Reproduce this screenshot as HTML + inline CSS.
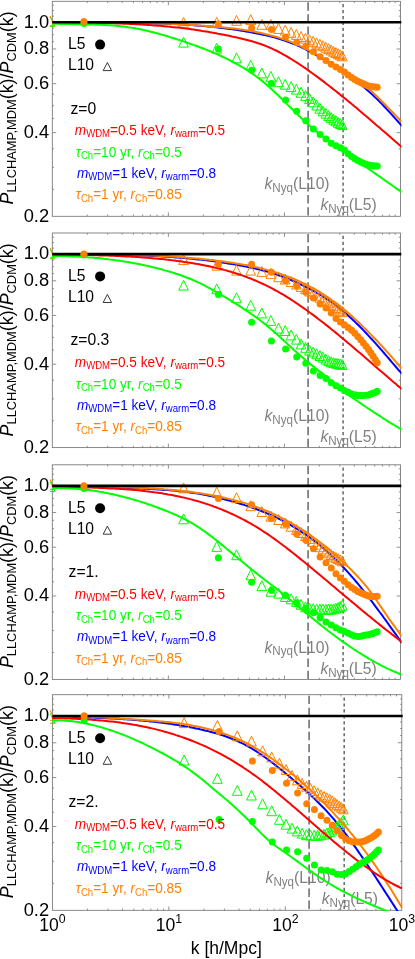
<!DOCTYPE html>
<html lang="en"><head><meta charset="utf-8"><title>P_LLCHAMP,MDM(k)/P_CDM(k)</title>
<style>
html,body{margin:0;padding:0;background:#fff;}
body{width:415px;height:959px;overflow:hidden;}
svg{display:block;mix-blend-mode:multiply;}
</style></head><body>
<svg width="415" height="959" viewBox="0 0 415 959" font-family="'Liberation Sans', Arial, Helvetica, sans-serif">
<rect width="415" height="959" fill="#fff"/>
<defs>
<clipPath id="cp0"><rect x="52.00" y="1.00" width="349.40" height="215.90"/></clipPath>
<clipPath id="cm0"><rect x="49.90" y="1.30" width="350.60" height="215.00"/></clipPath>
<clipPath id="cp1"><rect x="52.00" y="232.70" width="349.40" height="215.50"/></clipPath>
<clipPath id="cm1"><rect x="49.90" y="233.00" width="350.60" height="214.60"/></clipPath>
<clipPath id="cp2"><rect x="52.00" y="464.50" width="349.40" height="215.50"/></clipPath>
<clipPath id="cm2"><rect x="49.90" y="464.80" width="350.60" height="214.60"/></clipPath>
<clipPath id="cp3"><rect x="52.10" y="694.40" width="350.60" height="216.50"/></clipPath>
<clipPath id="cm3"><rect x="50.00" y="694.70" width="351.80" height="215.60"/></clipPath>
</defs>
<g id="panel0">
<rect x="52.30" y="1.30" width="348.20" height="215.00" fill="none" stroke="#747474" stroke-width="0.85"/>
<path d="M87.24 216.30 v-1.7 M87.24 1.30 v1.7 M107.68 216.30 v-1.7 M107.68 1.30 v1.7 M122.18 216.30 v-1.7 M122.18 1.30 v1.7 M133.43 216.30 v-1.7 M133.43 1.30 v1.7 M142.62 216.30 v-1.7 M142.62 1.30 v1.7 M150.39 216.30 v-1.7 M150.39 1.30 v1.7 M157.12 216.30 v-1.7 M157.12 1.30 v1.7 M163.06 216.30 v-1.7 M163.06 1.30 v1.7 M168.37 216.30 v-3.9 M168.37 1.30 v3.9 M203.31 216.30 v-1.7 M203.31 1.30 v1.7 M223.74 216.30 v-1.7 M223.74 1.30 v1.7 M238.25 216.30 v-1.7 M238.25 1.30 v1.7 M249.49 216.30 v-1.7 M249.49 1.30 v1.7 M258.68 216.30 v-1.7 M258.68 1.30 v1.7 M266.45 216.30 v-1.7 M266.45 1.30 v1.7 M273.19 216.30 v-1.7 M273.19 1.30 v1.7 M279.12 216.30 v-1.7 M279.12 1.30 v1.7 M284.43 216.30 v-3.9 M284.43 1.30 v3.9 M319.37 216.30 v-1.7 M319.37 1.30 v1.7 M339.81 216.30 v-1.7 M339.81 1.30 v1.7 M354.31 216.30 v-1.7 M354.31 1.30 v1.7 M365.56 216.30 v-1.7 M365.56 1.30 v1.7 M374.75 216.30 v-1.7 M374.75 1.30 v1.7 M382.52 216.30 v-1.7 M382.52 1.30 v1.7 M389.25 216.30 v-1.7 M389.25 1.30 v1.7 M395.19 216.30 v-1.7 M395.19 1.30 v1.7 M52.30 189.37 h1.7 M400.50 189.37 h-1.7 M52.30 167.36 h1.7 M400.50 167.36 h-1.7 M52.30 148.76 h1.7 M400.50 148.76 h-1.7 M52.30 132.64 h3.9 M400.50 132.64 h-3.9 M52.30 118.43 h1.7 M400.50 118.43 h-1.7 M52.30 105.71 h1.7 M400.50 105.71 h-1.7 M52.30 94.21 h1.7 M400.50 94.21 h-1.7 M52.30 83.70 h3.9 M400.50 83.70 h-3.9 M52.30 74.04 h1.7 M400.50 74.04 h-1.7 M52.30 65.10 h1.7 M400.50 65.10 h-1.7 M52.30 56.77 h1.7 M400.50 56.77 h-1.7 M52.30 48.98 h3.9 M400.50 48.98 h-3.9 M52.30 41.67 h1.7 M400.50 41.67 h-1.7 M52.30 34.77 h1.7 M400.50 34.77 h-1.7 M52.30 28.24 h1.7 M400.50 28.24 h-1.7 M52.30 22.05 h3.9 M400.50 22.05 h-3.9 M52.30 16.16 h1.7 M400.50 16.16 h-1.7 M52.30 10.55 h1.7 M400.50 10.55 h-1.7 M52.30 5.18 h1.7 M400.50 5.18 h-1.7" stroke="#747474" stroke-width="0.8" fill="none"/>
<g font-size="16.4" fill="#808080">
<text transform="translate(264.50 189.00) scale(0.958 1)" ><tspan font-style="italic">k</tspan><tspan font-size="12.1" dy="2.8">Nyq</tspan><tspan dy="-2.8">(L10)</tspan></text>
<text transform="translate(320.40 210.20) scale(0.958 1)" ><tspan font-style="italic">k</tspan><tspan font-size="12.1" dy="2.8">Nyq</tspan><tspan dy="-2.8">(L5)</tspan></text>
</g>
<path d="M308.1 2.30 V216.30" stroke="#707070" stroke-width="1.6" stroke-dasharray="8.4 3.65" fill="none"/>
<path d="M343.1 4.05 V216.30" stroke="#707070" stroke-width="1.6" stroke-dasharray="3.2 2.75" fill="none"/>
<g clip-path="url(#cp0)" fill="none" stroke-width="2" stroke-linejoin="round">
<path d="M52.0 22.1 L54.0 22.1 L56.0 22.2 L58.0 22.2 L60.0 22.3 L62.0 22.3 L64.0 22.3 L66.0 22.4 L68.0 22.4 L70.0 22.4 L72.0 22.4 L74.0 22.4 L76.0 22.5 L78.0 22.5 L80.0 22.5 L82.0 22.5 L84.0 22.5 L86.0 22.5 L88.0 22.6 L90.0 22.6 L92.0 22.6 L94.0 22.6 L96.0 22.6 L98.0 22.6 L100.0 22.6 L102.0 22.6 L104.0 22.6 L106.0 22.6 L108.0 22.7 L110.0 22.7 L112.0 22.7 L114.0 22.7 L116.0 22.7 L118.0 22.7 L120.0 22.7 L122.0 22.8 L124.0 22.8 L126.0 22.8 L128.0 22.8 L130.0 22.8 L132.0 22.9 L134.0 22.9 L136.0 22.9 L138.0 22.9 L140.0 23.0 L142.0 23.0 L144.0 23.1 L146.0 23.1 L148.0 23.1 L150.0 23.2 L152.0 23.2 L154.0 23.3 L156.0 23.4 L158.0 23.4 L160.0 23.5 L162.0 23.5 L164.0 23.6 L166.0 23.7 L168.0 23.8 L170.0 23.9 L172.0 23.9 L174.0 24.0 L176.0 24.1 L178.0 24.2 L180.0 24.3 L182.0 24.5 L184.0 24.6 L186.0 24.7 L188.0 24.8 L190.0 25.0 L192.0 25.1 L194.0 25.2 L196.0 25.4 L198.0 25.6 L200.0 25.7 L202.0 25.9 L204.0 26.1 L206.0 26.2 L208.0 26.4 L210.0 26.6 L212.0 26.8 L214.0 27.0 L216.0 27.3 L218.0 27.5 L220.0 27.7 L222.0 28.0 L224.0 28.2 L226.0 28.5 L228.0 28.7 L230.0 29.0 L232.0 29.3 L234.0 29.5 L236.0 29.8 L238.0 30.1 L240.0 30.5 L242.0 30.8 L244.0 31.1 L246.0 31.4 L248.0 31.8 L250.0 32.1 L252.0 32.5 L254.0 32.9 L256.0 33.3 L258.0 33.7 L260.0 34.1 L262.0 34.5 L264.0 34.9 L266.0 35.4 L268.0 35.9 L270.0 36.4 L272.0 36.9 L274.0 37.4 L276.0 37.9 L278.0 38.5 L280.0 39.1 L282.0 39.7 L284.0 40.4 L286.0 41.1 L288.0 41.8 L290.0 42.5 L292.0 43.3 L294.0 44.1 L296.0 44.9 L298.0 45.7 L300.0 46.6 L302.0 47.6 L304.0 48.5 L306.0 49.5 L308.0 50.5 L310.0 51.6 L312.0 52.7 L314.0 53.8 L316.0 54.9 L318.0 56.1 L320.0 57.3 L322.0 58.5 L324.0 59.7 L326.0 60.9 L328.0 62.2 L330.0 63.5 L332.0 64.7 L334.0 66.1 L336.0 67.4 L338.0 68.7 L340.0 70.0 L342.0 71.4 L344.0 72.7 L346.0 74.1 L348.0 75.5 L350.0 76.8 L352.0 78.3 L354.0 79.7 L356.0 81.1 L358.0 82.6 L360.0 84.2 L362.0 85.7 L364.0 87.3 L366.0 89.0 L368.0 90.7 L370.0 92.5 L372.0 94.3 L374.0 96.2 L376.0 98.1 L378.0 100.0 L380.0 102.1 L382.0 104.1 L384.0 106.2 L386.0 108.3 L388.0 110.5 L390.0 112.7 L392.0 114.9 L394.0 117.1 L396.0 119.3 L398.0 121.5 L400.0 123.8 L402.0 126.0" stroke="#0000ff"/>
</g>
<g clip-path="url(#cm0)">
<path d="M50.0 16.6 L54.9 26.5 L45.2 26.5Z" fill="none" stroke="#00ff00" stroke-width="1.00" stroke-linejoin="miter"/>
<path d="M183.6 37.2 L188.4 47.1 L178.7 47.1Z" fill="none" stroke="#00ff00" stroke-width="1.00" stroke-linejoin="miter"/>
<path d="M216.7 43.3 L221.6 53.2 L211.9 53.2Z" fill="none" stroke="#00ff00" stroke-width="1.00" stroke-linejoin="miter"/>
<path d="M236.5 52.9 L241.4 62.8 L231.7 62.8Z" fill="none" stroke="#00ff00" stroke-width="1.00" stroke-linejoin="miter"/>
<path d="M250.7 60.3 L255.6 70.2 L245.9 70.2Z" fill="none" stroke="#00ff00" stroke-width="1.00" stroke-linejoin="miter"/>
<path d="M261.8 68.0 L266.6 77.9 L256.9 77.9Z" fill="none" stroke="#00ff00" stroke-width="1.00" stroke-linejoin="miter"/>
<path d="M270.8 71.4 L275.7 81.3 L266.0 81.3Z" fill="none" stroke="#00ff00" stroke-width="1.00" stroke-linejoin="miter"/>
<path d="M278.5 76.8 L283.4 86.7 L273.7 86.7Z" fill="none" stroke="#00ff00" stroke-width="1.00" stroke-linejoin="miter"/>
<path d="M285.2 79.3 L290.0 89.2 L280.3 89.2Z" fill="none" stroke="#00ff00" stroke-width="1.00" stroke-linejoin="miter"/>
<path d="M291.1 81.6 L295.9 91.5 L286.2 91.5Z" fill="none" stroke="#00ff00" stroke-width="1.00" stroke-linejoin="miter"/>
<path d="M296.3 84.2 L301.2 94.1 L291.5 94.1Z" fill="none" stroke="#00ff00" stroke-width="1.00" stroke-linejoin="miter"/>
<path d="M301.1 87.4 L305.9 97.3 L296.2 97.3Z" fill="none" stroke="#00ff00" stroke-width="1.00" stroke-linejoin="miter"/>
<path d="M305.5 90.5 L310.3 100.4 L300.6 100.4Z" fill="none" stroke="#00ff00" stroke-width="1.00" stroke-linejoin="miter"/>
<path d="M309.5 93.5 L314.3 103.4 L304.6 103.4Z" fill="none" stroke="#00ff00" stroke-width="1.00" stroke-linejoin="miter"/>
<path d="M313.2 96.9 L318.0 106.8 L308.3 106.8Z" fill="none" stroke="#00ff00" stroke-width="1.00" stroke-linejoin="miter"/>
<path d="M316.6 100.1 L321.5 110.0 L311.8 110.0Z" fill="none" stroke="#00ff00" stroke-width="1.00" stroke-linejoin="miter"/>
<path d="M319.9 103.3 L324.7 113.2 L315.0 113.2Z" fill="none" stroke="#00ff00" stroke-width="1.00" stroke-linejoin="miter"/>
<path d="M322.9 105.9 L327.8 115.8 L318.1 115.8Z" fill="none" stroke="#00ff00" stroke-width="1.00" stroke-linejoin="miter"/>
<path d="M325.8 108.3 L330.6 118.2 L320.9 118.2Z" fill="none" stroke="#00ff00" stroke-width="1.00" stroke-linejoin="miter"/>
<path d="M328.5 110.5 L333.4 120.4 L323.7 120.4Z" fill="none" stroke="#00ff00" stroke-width="1.00" stroke-linejoin="miter"/>
<path d="M331.1 112.5 L335.9 122.4 L326.2 122.4Z" fill="none" stroke="#00ff00" stroke-width="1.00" stroke-linejoin="miter"/>
<path d="M333.5 114.3 L338.4 124.2 L328.7 124.2Z" fill="none" stroke="#00ff00" stroke-width="1.00" stroke-linejoin="miter"/>
<path d="M335.9 115.9 L340.7 125.8 L331.0 125.8Z" fill="none" stroke="#00ff00" stroke-width="1.00" stroke-linejoin="miter"/>
<path d="M338.1 117.4 L342.9 127.3 L333.2 127.3Z" fill="none" stroke="#00ff00" stroke-width="1.00" stroke-linejoin="miter"/>
<path d="M340.2 118.6 L345.1 128.5 L335.4 128.5Z" fill="none" stroke="#00ff00" stroke-width="1.00" stroke-linejoin="miter"/>
<path d="M342.3 119.7 L347.1 129.6 L337.4 129.6Z" fill="none" stroke="#00ff00" stroke-width="1.00" stroke-linejoin="miter"/>
<path d="M50.0 15.9 L54.9 25.8 L45.2 25.8Z" fill="none" stroke="#ff8000" stroke-width="1.00" stroke-linejoin="miter"/>
<path d="M183.6 17.4 L188.4 27.3 L178.7 27.3Z" fill="none" stroke="#ff8000" stroke-width="1.00" stroke-linejoin="miter"/>
<path d="M216.7 17.4 L221.6 27.3 L211.9 27.3Z" fill="none" stroke="#ff8000" stroke-width="1.00" stroke-linejoin="miter"/>
<path d="M236.5 15.4 L241.4 25.3 L231.7 25.3Z" fill="none" stroke="#ff8000" stroke-width="1.00" stroke-linejoin="miter"/>
<path d="M250.7 14.7 L255.6 24.6 L245.9 24.6Z" fill="none" stroke="#ff8000" stroke-width="1.00" stroke-linejoin="miter"/>
<path d="M261.8 19.4 L266.6 29.3 L256.9 29.3Z" fill="none" stroke="#ff8000" stroke-width="1.00" stroke-linejoin="miter"/>
<path d="M270.8 19.5 L275.7 29.4 L266.0 29.4Z" fill="none" stroke="#ff8000" stroke-width="1.00" stroke-linejoin="miter"/>
<path d="M278.5 23.5 L283.4 33.4 L273.7 33.4Z" fill="none" stroke="#ff8000" stroke-width="1.00" stroke-linejoin="miter"/>
<path d="M285.2 25.2 L290.0 35.1 L280.3 35.1Z" fill="none" stroke="#ff8000" stroke-width="1.00" stroke-linejoin="miter"/>
<path d="M291.1 27.4 L295.9 37.3 L286.2 37.3Z" fill="none" stroke="#ff8000" stroke-width="1.00" stroke-linejoin="miter"/>
<path d="M296.3 29.5 L301.2 39.4 L291.5 39.4Z" fill="none" stroke="#ff8000" stroke-width="1.00" stroke-linejoin="miter"/>
<path d="M301.1 31.6 L305.9 41.5 L296.2 41.5Z" fill="none" stroke="#ff8000" stroke-width="1.00" stroke-linejoin="miter"/>
<path d="M305.5 33.3 L310.3 43.2 L300.6 43.2Z" fill="none" stroke="#ff8000" stroke-width="1.00" stroke-linejoin="miter"/>
<path d="M309.5 34.9 L314.3 44.8 L304.6 44.8Z" fill="none" stroke="#ff8000" stroke-width="1.00" stroke-linejoin="miter"/>
<path d="M313.2 36.4 L318.0 46.3 L308.3 46.3Z" fill="none" stroke="#ff8000" stroke-width="1.00" stroke-linejoin="miter"/>
<path d="M316.6 37.9 L321.5 47.8 L311.8 47.8Z" fill="none" stroke="#ff8000" stroke-width="1.00" stroke-linejoin="miter"/>
<path d="M319.9 39.3 L324.7 49.2 L315.0 49.2Z" fill="none" stroke="#ff8000" stroke-width="1.00" stroke-linejoin="miter"/>
<path d="M322.9 40.8 L327.8 50.7 L318.1 50.7Z" fill="none" stroke="#ff8000" stroke-width="1.00" stroke-linejoin="miter"/>
<path d="M325.8 42.3 L330.6 52.2 L320.9 52.2Z" fill="none" stroke="#ff8000" stroke-width="1.00" stroke-linejoin="miter"/>
<path d="M328.5 43.7 L333.4 53.6 L323.7 53.6Z" fill="none" stroke="#ff8000" stroke-width="1.00" stroke-linejoin="miter"/>
<path d="M331.1 45.1 L335.9 55.0 L326.2 55.0Z" fill="none" stroke="#ff8000" stroke-width="1.00" stroke-linejoin="miter"/>
<path d="M333.5 46.4 L338.4 56.3 L328.7 56.3Z" fill="none" stroke="#ff8000" stroke-width="1.00" stroke-linejoin="miter"/>
<path d="M335.9 47.6 L340.7 57.5 L331.0 57.5Z" fill="none" stroke="#ff8000" stroke-width="1.00" stroke-linejoin="miter"/>
<path d="M338.1 48.8 L342.9 58.7 L333.2 58.7Z" fill="none" stroke="#ff8000" stroke-width="1.00" stroke-linejoin="miter"/>
<path d="M340.2 49.9 L345.1 59.8 L335.4 59.8Z" fill="none" stroke="#ff8000" stroke-width="1.00" stroke-linejoin="miter"/>
<path d="M342.3 50.9 L347.1 60.8 L337.4 60.8Z" fill="none" stroke="#ff8000" stroke-width="1.00" stroke-linejoin="miter"/>
</g>
<g clip-path="url(#cp0)" fill="none" stroke-width="2" stroke-linejoin="round">
<path d="M52.0 22.1 L54.0 22.1 L56.0 22.1 L58.0 22.1 L60.0 22.1 L62.0 22.1 L64.0 22.1 L66.0 22.1 L68.0 22.1 L70.0 22.1 L72.0 22.1 L74.0 22.1 L76.0 22.1 L78.0 22.1 L80.0 22.1 L82.0 22.1 L84.0 22.1 L86.0 22.1 L88.0 22.1 L90.0 22.1 L92.0 22.2 L94.0 22.2 L96.0 22.2 L98.0 22.2 L100.0 22.2 L102.0 22.2 L104.0 22.2 L106.0 22.2 L108.0 22.3 L110.0 22.3 L112.0 22.3 L114.0 22.3 L116.0 22.3 L118.0 22.4 L120.0 22.4 L122.0 22.4 L124.0 22.5 L126.0 22.5 L128.0 22.5 L130.0 22.6 L132.0 22.6 L134.0 22.6 L136.0 22.7 L138.0 22.7 L140.0 22.8 L142.0 22.8 L144.0 22.9 L146.0 22.9 L148.0 23.0 L150.0 23.0 L152.0 23.1 L154.0 23.2 L156.0 23.2 L158.0 23.3 L160.0 23.4 L162.0 23.5 L164.0 23.5 L166.0 23.6 L168.0 23.7 L170.0 23.8 L172.0 23.9 L174.0 24.0 L176.0 24.1 L178.0 24.2 L180.0 24.3 L182.0 24.4 L184.0 24.5 L186.0 24.6 L188.0 24.7 L190.0 24.9 L192.0 25.0 L194.0 25.1 L196.0 25.2 L198.0 25.4 L200.0 25.5 L202.0 25.7 L204.0 25.8 L206.0 26.0 L208.0 26.1 L210.0 26.3 L212.0 26.4 L214.0 26.6 L216.0 26.8 L218.0 27.0 L220.0 27.1 L222.0 27.3 L224.0 27.5 L226.0 27.7 L228.0 27.9 L230.0 28.1 L232.0 28.4 L234.0 28.6 L236.0 28.8 L238.0 29.1 L240.0 29.4 L242.0 29.6 L244.0 29.9 L246.0 30.2 L248.0 30.6 L250.0 30.9 L252.0 31.2 L254.0 31.6 L256.0 32.0 L258.0 32.4 L260.0 32.8 L262.0 33.2 L264.0 33.7 L266.0 34.2 L268.0 34.6 L270.0 35.2 L272.0 35.7 L274.0 36.3 L276.0 36.8 L278.0 37.4 L280.0 38.1 L282.0 38.7 L284.0 39.4 L286.0 40.1 L288.0 40.8 L290.0 41.6 L292.0 42.4 L294.0 43.2 L296.0 44.1 L298.0 44.9 L300.0 45.9 L302.0 46.8 L304.0 47.8 L306.0 48.8 L308.0 49.8 L310.0 50.8 L312.0 51.9 L314.0 53.0 L316.0 54.1 L318.0 55.3 L320.0 56.5 L322.0 57.6 L324.0 58.8 L326.0 60.0 L328.0 61.3 L330.0 62.5 L332.0 63.7 L334.0 65.0 L336.0 66.2 L338.0 67.5 L340.0 68.8 L342.0 70.0 L344.0 71.3 L346.0 72.6 L348.0 73.9 L350.0 75.2 L352.0 76.5 L354.0 77.8 L356.0 79.2 L358.0 80.6 L360.0 82.0 L362.0 83.5 L364.0 85.0 L366.0 86.6 L368.0 88.3 L370.0 90.0 L372.0 91.7 L374.0 93.6 L376.0 95.5 L378.0 97.4 L380.0 99.4 L382.0 101.4 L384.0 103.4 L386.0 105.5 L388.0 107.6 L390.0 109.6 L392.0 111.7 L394.0 113.8 L396.0 115.9 L398.0 117.9 L400.0 120.0 L402.0 122.0" stroke="#ff8000"/>
<path d="M52.0 22.3 L54.0 22.3 L56.0 22.3 L58.0 22.4 L60.0 22.4 L62.0 22.4 L64.0 22.4 L66.0 22.5 L68.0 22.5 L70.0 22.5 L72.0 22.5 L74.0 22.6 L76.0 22.6 L78.0 22.6 L80.0 22.6 L82.0 22.7 L84.0 22.7 L86.0 22.7 L88.0 22.7 L90.0 22.8 L92.0 22.8 L94.0 22.8 L96.0 22.9 L98.0 22.9 L100.0 23.0 L102.0 23.0 L104.0 23.1 L106.0 23.1 L108.0 23.2 L110.0 23.2 L112.0 23.3 L114.0 23.3 L116.0 23.4 L118.0 23.5 L120.0 23.5 L122.0 23.6 L124.0 23.7 L126.0 23.8 L128.0 23.8 L130.0 23.9 L132.0 24.0 L134.0 24.1 L136.0 24.2 L138.0 24.3 L140.0 24.4 L142.0 24.6 L144.0 24.7 L146.0 24.8 L148.0 24.9 L150.0 25.1 L152.0 25.2 L154.0 25.4 L156.0 25.5 L158.0 25.7 L160.0 25.8 L162.0 26.0 L164.0 26.2 L166.0 26.4 L168.0 26.6 L170.0 26.7 L172.0 27.0 L174.0 27.2 L176.0 27.4 L178.0 27.6 L180.0 27.8 L182.0 28.1 L184.0 28.3 L186.0 28.6 L188.0 28.8 L190.0 29.1 L192.0 29.4 L194.0 29.6 L196.0 29.9 L198.0 30.2 L200.0 30.5 L202.0 30.9 L204.0 31.2 L206.0 31.5 L208.0 31.8 L210.0 32.2 L212.0 32.6 L214.0 32.9 L216.0 33.3 L218.0 33.7 L220.0 34.0 L222.0 34.4 L224.0 34.8 L226.0 35.2 L228.0 35.6 L230.0 36.0 L232.0 36.5 L234.0 36.9 L236.0 37.3 L238.0 37.8 L240.0 38.2 L242.0 38.7 L244.0 39.2 L246.0 39.7 L248.0 40.2 L250.0 40.7 L252.0 41.3 L254.0 41.9 L256.0 42.5 L258.0 43.2 L260.0 43.8 L262.0 44.5 L264.0 45.3 L266.0 46.1 L268.0 46.9 L270.0 47.7 L272.0 48.6 L274.0 49.6 L276.0 50.5 L278.0 51.5 L280.0 52.6 L282.0 53.7 L284.0 54.8 L286.0 55.9 L288.0 57.1 L290.0 58.3 L292.0 59.5 L294.0 60.8 L296.0 62.0 L298.0 63.3 L300.0 64.7 L302.0 66.0 L304.0 67.4 L306.0 68.7 L308.0 70.1 L310.0 71.6 L312.0 73.0 L314.0 74.5 L316.0 75.9 L318.0 77.4 L320.0 78.9 L322.0 80.4 L324.0 81.9 L326.0 83.5 L328.0 85.0 L330.0 86.5 L332.0 88.1 L334.0 89.7 L336.0 91.3 L338.0 92.9 L340.0 94.5 L342.0 96.1 L344.0 97.7 L346.0 99.3 L348.0 101.0 L350.0 102.6 L352.0 104.3 L354.0 105.9 L356.0 107.6 L358.0 109.3 L360.0 111.0 L362.0 112.7 L364.0 114.4 L366.0 116.1 L368.0 117.8 L370.0 119.5 L372.0 121.2 L374.0 122.9 L376.0 124.7 L378.0 126.4 L380.0 128.1 L382.0 129.9 L384.0 131.6 L386.0 133.3 L388.0 135.1 L390.0 136.8 L392.0 138.6 L394.0 140.3 L396.0 142.1 L398.0 143.8 L400.0 145.6 L402.0 147.3" stroke="#ff0000"/>
<path d="M52.0 23.5 L54.0 23.6 L56.0 23.7 L58.0 23.8 L60.0 23.9 L62.0 23.9 L64.0 24.0 L66.0 24.0 L68.0 24.1 L70.0 24.1 L72.0 24.2 L74.0 24.2 L76.0 24.3 L78.0 24.3 L80.0 24.3 L82.0 24.4 L84.0 24.4 L86.0 24.4 L88.0 24.5 L90.0 24.5 L92.0 24.6 L94.0 24.6 L96.0 24.7 L98.0 24.7 L100.0 24.8 L102.0 24.9 L104.0 25.0 L106.0 25.1 L108.0 25.2 L110.0 25.3 L112.0 25.5 L114.0 25.6 L116.0 25.8 L118.0 26.0 L120.0 26.2 L122.0 26.4 L124.0 26.6 L126.0 26.9 L128.0 27.2 L130.0 27.4 L132.0 27.8 L134.0 28.1 L136.0 28.5 L138.0 28.8 L140.0 29.2 L142.0 29.6 L144.0 30.1 L146.0 30.5 L148.0 31.0 L150.0 31.5 L152.0 32.0 L154.0 32.5 L156.0 33.0 L158.0 33.5 L160.0 34.1 L162.0 34.7 L164.0 35.2 L166.0 35.8 L168.0 36.4 L170.0 37.1 L172.0 37.7 L174.0 38.3 L176.0 39.0 L178.0 39.6 L180.0 40.3 L182.0 40.9 L184.0 41.6 L186.0 42.3 L188.0 43.0 L190.0 43.7 L192.0 44.4 L194.0 45.1 L196.0 45.8 L198.0 46.5 L200.0 47.3 L202.0 48.0 L204.0 48.8 L206.0 49.6 L208.0 50.4 L210.0 51.2 L212.0 52.0 L214.0 52.9 L216.0 53.7 L218.0 54.6 L220.0 55.5 L222.0 56.5 L224.0 57.4 L226.0 58.4 L228.0 59.4 L230.0 60.4 L232.0 61.4 L234.0 62.5 L236.0 63.6 L238.0 64.7 L240.0 65.8 L242.0 67.0 L244.0 68.2 L246.0 69.4 L248.0 70.7 L250.0 72.0 L252.0 73.4 L254.0 74.8 L256.0 76.2 L258.0 77.7 L260.0 79.3 L262.0 80.9 L264.0 82.5 L266.0 84.2 L268.0 86.0 L270.0 87.8 L272.0 89.6 L274.0 91.4 L276.0 93.3 L278.0 95.3 L280.0 97.2 L282.0 99.1 L284.0 101.1 L286.0 103.1 L288.0 105.1 L290.0 107.0 L292.0 109.0 L294.0 111.0 L296.0 112.9 L298.0 114.9 L300.0 116.8 L302.0 118.7 L304.0 120.5 L306.0 122.4 L308.0 124.2 L310.0 126.0 L312.0 127.7 L314.0 129.4 L316.0 131.1 L318.0 132.7 L320.0 134.3 L322.0 135.8 L324.0 137.4 L326.0 138.9 L328.0 140.3 L330.0 141.8 L332.0 143.3 L334.0 144.7 L336.0 146.1 L338.0 147.5 L340.0 148.9 L342.0 150.3 L344.0 151.7 L346.0 153.1 L348.0 154.5 L350.0 155.9 L352.0 157.3 L354.0 158.7 L356.0 160.1 L358.0 161.5 L360.0 162.9 L362.0 164.3 L364.0 165.7 L366.0 167.1 L368.0 168.5 L370.0 169.9 L372.0 171.3 L374.0 172.7 L376.0 174.1 L378.0 175.5 L380.0 176.9 L382.0 178.3 L384.0 179.7 L386.0 181.1 L388.0 182.5 L390.0 183.9 L392.0 185.3 L394.0 186.7 L396.0 188.1 L398.0 189.6 L400.0 191.0 L402.0 192.4" stroke="#00ff00"/>
<path d="M52.30 22.20 H401.70" stroke="#000" stroke-width="2.6"/>
</g>
<g clip-path="url(#cm0)">
<circle cx="83.9" cy="23.5" r="3.5" fill="#00ff00"/>
<circle cx="218.4" cy="48.9" r="3.5" fill="#00ff00"/>
<circle cx="251.6" cy="70.3" r="3.5" fill="#00ff00"/>
<circle cx="271.4" cy="83.6" r="3.5" fill="#00ff00"/>
<circle cx="285.6" cy="99.9" r="3.5" fill="#00ff00"/>
<circle cx="296.7" cy="111.2" r="3.5" fill="#00ff00"/>
<circle cx="305.8" cy="120.8" r="3.5" fill="#00ff00"/>
<circle cx="313.4" cy="129.0" r="3.5" fill="#00ff00"/>
<circle cx="320.1" cy="134.4" r="3.5" fill="#00ff00"/>
<circle cx="326.0" cy="139.0" r="3.5" fill="#00ff00"/>
<circle cx="331.3" cy="143.2" r="3.5" fill="#00ff00"/>
<circle cx="336.0" cy="145.8" r="3.5" fill="#00ff00"/>
<circle cx="340.4" cy="147.7" r="3.5" fill="#00ff00"/>
<circle cx="344.4" cy="149.9" r="3.5" fill="#00ff00"/>
<circle cx="348.1" cy="153.8" r="3.5" fill="#00ff00"/>
<circle cx="351.6" cy="156.6" r="3.5" fill="#00ff00"/>
<circle cx="354.8" cy="158.8" r="3.5" fill="#00ff00"/>
<circle cx="357.8" cy="160.5" r="3.5" fill="#00ff00"/>
<circle cx="360.7" cy="161.9" r="3.5" fill="#00ff00"/>
<circle cx="363.4" cy="163.2" r="3.5" fill="#00ff00"/>
<circle cx="366.0" cy="164.2" r="3.5" fill="#00ff00"/>
<circle cx="368.5" cy="164.9" r="3.5" fill="#00ff00"/>
<circle cx="370.8" cy="165.4" r="3.5" fill="#00ff00"/>
<circle cx="373.0" cy="165.8" r="3.5" fill="#00ff00"/>
<circle cx="375.2" cy="166.0" r="3.5" fill="#00ff00"/>
<circle cx="377.2" cy="166.1" r="3.5" fill="#00ff00"/>
<circle cx="83.9" cy="21.6" r="3.5" fill="#ff8000"/>
<circle cx="218.4" cy="24.1" r="3.5" fill="#ff8000"/>
<circle cx="251.6" cy="28.0" r="3.5" fill="#ff8000"/>
<circle cx="271.4" cy="29.4" r="3.5" fill="#ff8000"/>
<circle cx="285.6" cy="37.1" r="3.5" fill="#ff8000"/>
<circle cx="296.7" cy="42.5" r="3.5" fill="#ff8000"/>
<circle cx="305.8" cy="46.5" r="3.5" fill="#ff8000"/>
<circle cx="313.4" cy="51.8" r="3.5" fill="#ff8000"/>
<circle cx="320.1" cy="56.8" r="3.5" fill="#ff8000"/>
<circle cx="326.0" cy="60.6" r="3.5" fill="#ff8000"/>
<circle cx="331.3" cy="64.2" r="3.5" fill="#ff8000"/>
<circle cx="336.0" cy="67.1" r="3.5" fill="#ff8000"/>
<circle cx="340.4" cy="69.6" r="3.5" fill="#ff8000"/>
<circle cx="344.4" cy="72.1" r="3.5" fill="#ff8000"/>
<circle cx="348.1" cy="74.9" r="3.5" fill="#ff8000"/>
<circle cx="351.6" cy="77.5" r="3.5" fill="#ff8000"/>
<circle cx="354.8" cy="79.6" r="3.5" fill="#ff8000"/>
<circle cx="357.8" cy="81.2" r="3.5" fill="#ff8000"/>
<circle cx="360.7" cy="82.6" r="3.5" fill="#ff8000"/>
<circle cx="363.4" cy="83.8" r="3.5" fill="#ff8000"/>
<circle cx="366.0" cy="84.9" r="3.5" fill="#ff8000"/>
<circle cx="368.5" cy="85.9" r="3.5" fill="#ff8000"/>
<circle cx="370.8" cy="86.4" r="3.5" fill="#ff8000"/>
<circle cx="373.0" cy="86.8" r="3.5" fill="#ff8000"/>
<circle cx="375.2" cy="87.1" r="3.5" fill="#ff8000"/>
<circle cx="377.2" cy="87.2" r="3.5" fill="#ff8000"/>
</g>
<g font-size="17.5" fill="#000" text-anchor="end">
<text x="49.1" y="27.5" textLength="25.4" lengthAdjust="spacingAndGlyphs">1.0</text>
<text x="49.1" y="54.4" textLength="25.4" lengthAdjust="spacingAndGlyphs">0.8</text>
<text x="49.1" y="89.1" textLength="25.4" lengthAdjust="spacingAndGlyphs">0.6</text>
<text x="49.1" y="138.0" textLength="25.4" lengthAdjust="spacingAndGlyphs">0.4</text>
<text x="49.1" y="221.7" textLength="25.4" lengthAdjust="spacingAndGlyphs">0.2</text>
</g>
<text transform="translate(12.8 204.5) rotate(-90)" font-size="17.9" fill="#000"><tspan font-style="italic">P</tspan><tspan font-size="12.85" dy="3.6">LLCHAMP,MDM</tspan><tspan dy="-3.6">(k)/</tspan><tspan font-style="italic">P</tspan><tspan font-size="12.85" dy="3.6">CDM</tspan><tspan dy="-3.6">(k)</tspan></text>
<g font-size="16.4" fill="#000">
<text transform="translate(67.90 49.10) scale(0.958 1)" >L5</text>
<circle cx="100.1" cy="44.6" r="5" fill="#000"/>
<text transform="translate(67.90 70.40) scale(0.958 1)" >L10</text>
<path d="M107.4 62.5 l4.2 8.1 h-8.4z" fill="none" stroke="#222" stroke-width="0.9"/>
<text transform="translate(70.50 113.60) scale(0.958 1)" >z=0</text>
</g>
<g font-size="14.2">
<text transform="translate(74.80 135.00) scale(0.958 1)" fill="#ff0000"><tspan font-style="italic">m</tspan><tspan font-size="10.0" dy="2.4">WDM</tspan><tspan dy="-2.4">=0.5 keV, </tspan><tspan font-style="italic">r</tspan><tspan font-size="10.0" dy="2.4">warm</tspan><tspan dy="-2.4">=0.5</tspan></text>
<text transform="translate(75.80 156.70) scale(0.958 1)" fill="#00ff00"><tspan font-style="italic">τ</tspan><tspan font-size="10.0" dy="2.4">Ch</tspan><tspan dy="-2.4">=10 yr, </tspan><tspan font-style="italic">r</tspan><tspan font-size="10.0" dy="2.4">Ch</tspan><tspan dy="-2.4">=0.5</tspan></text>
<text transform="translate(77.00 177.70) scale(0.958 1)" fill="#0000ff"><tspan font-style="italic">m</tspan><tspan font-size="10.0" dy="2.4">WDM</tspan><tspan dy="-2.4">=1 keV, </tspan><tspan font-style="italic">r</tspan><tspan font-size="10.0" dy="2.4">warm</tspan><tspan dy="-2.4">=0.8</tspan></text>
<text transform="translate(75.80 199.40) scale(0.958 1)" fill="#ff8000"><tspan font-style="italic">τ</tspan><tspan font-size="10.0" dy="2.4">Ch</tspan><tspan dy="-2.4">=1 yr, </tspan><tspan font-style="italic">r</tspan><tspan font-size="10.0" dy="2.4">Ch</tspan><tspan dy="-2.4">=0.85</tspan></text>
</g>
</g>
<g id="panel1">
<rect x="52.30" y="233.00" width="348.20" height="214.60" fill="none" stroke="#747474" stroke-width="0.85"/>
<path d="M87.24 447.60 v-1.7 M87.24 233.00 v1.7 M107.68 447.60 v-1.7 M107.68 233.00 v1.7 M122.18 447.60 v-1.7 M122.18 233.00 v1.7 M133.43 447.60 v-1.7 M133.43 233.00 v1.7 M142.62 447.60 v-1.7 M142.62 233.00 v1.7 M150.39 447.60 v-1.7 M150.39 233.00 v1.7 M157.12 447.60 v-1.7 M157.12 233.00 v1.7 M163.06 447.60 v-1.7 M163.06 233.00 v1.7 M168.37 447.60 v-3.9 M168.37 233.00 v3.9 M203.31 447.60 v-1.7 M203.31 233.00 v1.7 M223.74 447.60 v-1.7 M223.74 233.00 v1.7 M238.25 447.60 v-1.7 M238.25 233.00 v1.7 M249.49 447.60 v-1.7 M249.49 233.00 v1.7 M258.68 447.60 v-1.7 M258.68 233.00 v1.7 M266.45 447.60 v-1.7 M266.45 233.00 v1.7 M273.19 447.60 v-1.7 M273.19 233.00 v1.7 M279.12 447.60 v-1.7 M279.12 233.00 v1.7 M284.43 447.60 v-3.9 M284.43 233.00 v3.9 M319.37 447.60 v-1.7 M319.37 233.00 v1.7 M339.81 447.60 v-1.7 M339.81 233.00 v1.7 M354.31 447.60 v-1.7 M354.31 233.00 v1.7 M365.56 447.60 v-1.7 M365.56 233.00 v1.7 M374.75 447.60 v-1.7 M374.75 233.00 v1.7 M382.52 447.60 v-1.7 M382.52 233.00 v1.7 M389.25 447.60 v-1.7 M389.25 233.00 v1.7 M395.19 447.60 v-1.7 M395.19 233.00 v1.7 M52.30 420.76 h1.7 M400.50 420.76 h-1.7 M52.30 398.83 h1.7 M400.50 398.83 h-1.7 M52.30 380.28 h1.7 M400.50 380.28 h-1.7 M52.30 364.22 h3.9 M400.50 364.22 h-3.9 M52.30 350.05 h1.7 M400.50 350.05 h-1.7 M52.30 337.38 h1.7 M400.50 337.38 h-1.7 M52.30 325.91 h1.7 M400.50 325.91 h-1.7 M52.30 315.45 h3.9 M400.50 315.45 h-3.9 M52.30 305.82 h1.7 M400.50 305.82 h-1.7 M52.30 296.90 h1.7 M400.50 296.90 h-1.7 M52.30 288.61 h1.7 M400.50 288.61 h-1.7 M52.30 280.84 h3.9 M400.50 280.84 h-3.9 M52.30 273.55 h1.7 M400.50 273.55 h-1.7 M52.30 266.67 h1.7 M400.50 266.67 h-1.7 M52.30 260.17 h1.7 M400.50 260.17 h-1.7 M52.30 254.00 h3.9 M400.50 254.00 h-3.9 M52.30 248.13 h1.7 M400.50 248.13 h-1.7 M52.30 242.54 h1.7 M400.50 242.54 h-1.7 M52.30 237.19 h1.7 M400.50 237.19 h-1.7" stroke="#747474" stroke-width="0.8" fill="none"/>
<g font-size="16.4" fill="#808080">
<text transform="translate(264.50 420.85) scale(0.958 1)" ><tspan font-style="italic">k</tspan><tspan font-size="12.1" dy="2.8">Nyq</tspan><tspan dy="-2.8">(L10)</tspan></text>
<text transform="translate(320.40 442.05) scale(0.958 1)" ><tspan font-style="italic">k</tspan><tspan font-size="12.1" dy="2.8">Nyq</tspan><tspan dy="-2.8">(L5)</tspan></text>
</g>
<path d="M308.1 234.00 V447.60" stroke="#707070" stroke-width="1.6" stroke-dasharray="8.4 3.65" fill="none"/>
<path d="M343.1 235.75 V447.60" stroke="#707070" stroke-width="1.6" stroke-dasharray="3.2 2.75" fill="none"/>
<g clip-path="url(#cp1)" fill="none" stroke-width="2" stroke-linejoin="round">
<path d="M52.0 254.0 L54.0 254.0 L56.0 254.0 L58.0 254.1 L60.0 254.1 L62.0 254.1 L64.0 254.1 L66.0 254.1 L68.0 254.1 L70.0 254.1 L72.0 254.1 L74.0 254.2 L76.0 254.2 L78.0 254.2 L80.0 254.2 L82.0 254.2 L84.0 254.2 L86.0 254.2 L88.0 254.3 L90.0 254.3 L92.0 254.3 L94.0 254.3 L96.0 254.3 L98.0 254.4 L100.0 254.4 L102.0 254.4 L104.0 254.5 L106.0 254.5 L108.0 254.5 L110.0 254.5 L112.0 254.6 L114.0 254.6 L116.0 254.7 L118.0 254.7 L120.0 254.8 L122.0 254.8 L124.0 254.8 L126.0 254.9 L128.0 255.0 L130.0 255.0 L132.0 255.1 L134.0 255.1 L136.0 255.2 L138.0 255.3 L140.0 255.4 L142.0 255.4 L144.0 255.5 L146.0 255.6 L148.0 255.7 L150.0 255.8 L152.0 255.9 L154.0 256.0 L156.0 256.1 L158.0 256.2 L160.0 256.3 L162.0 256.4 L164.0 256.5 L166.0 256.7 L168.0 256.8 L170.0 256.9 L172.0 257.1 L174.0 257.2 L176.0 257.4 L178.0 257.5 L180.0 257.7 L182.0 257.9 L184.0 258.0 L186.0 258.2 L188.0 258.4 L190.0 258.6 L192.0 258.8 L194.0 259.0 L196.0 259.2 L198.0 259.4 L200.0 259.6 L202.0 259.8 L204.0 260.1 L206.0 260.3 L208.0 260.5 L210.0 260.8 L212.0 261.1 L214.0 261.3 L216.0 261.6 L218.0 261.9 L220.0 262.1 L222.0 262.4 L224.0 262.7 L226.0 263.0 L228.0 263.4 L230.0 263.7 L232.0 264.0 L234.0 264.3 L236.0 264.7 L238.0 265.0 L240.0 265.4 L242.0 265.8 L244.0 266.2 L246.0 266.6 L248.0 267.0 L250.0 267.4 L252.0 267.8 L254.0 268.3 L256.0 268.7 L258.0 269.2 L260.0 269.7 L262.0 270.2 L264.0 270.7 L266.0 271.2 L268.0 271.8 L270.0 272.4 L272.0 273.0 L274.0 273.6 L276.0 274.3 L278.0 275.0 L280.0 275.7 L282.0 276.4 L284.0 277.2 L286.0 278.0 L288.0 278.8 L290.0 279.6 L292.0 280.5 L294.0 281.3 L296.0 282.2 L298.0 283.1 L300.0 284.0 L302.0 285.0 L304.0 286.0 L306.0 287.0 L308.0 288.0 L310.0 289.0 L312.0 290.1 L314.0 291.2 L316.0 292.3 L318.0 293.5 L320.0 294.7 L322.0 295.9 L324.0 297.2 L326.0 298.5 L328.0 299.8 L330.0 301.2 L332.0 302.6 L334.0 304.0 L336.0 305.5 L338.0 307.0 L340.0 308.6 L342.0 310.2 L344.0 311.9 L346.0 313.6 L348.0 315.4 L350.0 317.2 L352.0 319.0 L354.0 320.9 L356.0 322.9 L358.0 324.8 L360.0 326.8 L362.0 328.8 L364.0 330.9 L366.0 333.0 L368.0 335.1 L370.0 337.3 L372.0 339.5 L374.0 341.7 L376.0 343.9 L378.0 346.1 L380.0 348.4 L382.0 350.7 L384.0 353.0 L386.0 355.3 L388.0 357.6 L390.0 360.0 L392.0 362.3 L394.0 364.7 L396.0 367.0 L398.0 369.3 L400.0 371.6 L402.0 373.9" stroke="#0000ff"/>
</g>
<g clip-path="url(#cm1)">
<path d="M50.0 248.9 L54.9 258.8 L45.2 258.8Z" fill="none" stroke="#00ff00" stroke-width="1.00" stroke-linejoin="miter"/>
<path d="M183.6 280.2 L188.4 290.1 L178.7 290.1Z" fill="none" stroke="#00ff00" stroke-width="1.00" stroke-linejoin="miter"/>
<path d="M216.7 283.9 L221.6 293.8 L211.9 293.8Z" fill="none" stroke="#00ff00" stroke-width="1.00" stroke-linejoin="miter"/>
<path d="M236.5 292.8 L241.4 302.7 L231.7 302.7Z" fill="none" stroke="#00ff00" stroke-width="1.00" stroke-linejoin="miter"/>
<path d="M250.7 300.3 L255.6 310.2 L245.9 310.2Z" fill="none" stroke="#00ff00" stroke-width="1.00" stroke-linejoin="miter"/>
<path d="M261.8 308.0 L266.6 317.9 L256.9 317.9Z" fill="none" stroke="#00ff00" stroke-width="1.00" stroke-linejoin="miter"/>
<path d="M270.8 315.5 L275.7 325.4 L266.0 325.4Z" fill="none" stroke="#00ff00" stroke-width="1.00" stroke-linejoin="miter"/>
<path d="M278.5 323.2 L283.4 333.1 L273.7 333.1Z" fill="none" stroke="#00ff00" stroke-width="1.00" stroke-linejoin="miter"/>
<path d="M285.2 325.6 L290.0 335.5 L280.3 335.5Z" fill="none" stroke="#00ff00" stroke-width="1.00" stroke-linejoin="miter"/>
<path d="M291.1 330.0 L295.9 339.9 L286.2 339.9Z" fill="none" stroke="#00ff00" stroke-width="1.00" stroke-linejoin="miter"/>
<path d="M296.3 334.2 L301.2 344.1 L291.5 344.1Z" fill="none" stroke="#00ff00" stroke-width="1.00" stroke-linejoin="miter"/>
<path d="M301.1 339.0 L305.9 348.9 L296.2 348.9Z" fill="none" stroke="#00ff00" stroke-width="1.00" stroke-linejoin="miter"/>
<path d="M305.5 342.4 L310.3 352.3 L300.6 352.3Z" fill="none" stroke="#00ff00" stroke-width="1.00" stroke-linejoin="miter"/>
<path d="M309.5 345.2 L314.3 355.1 L304.6 355.1Z" fill="none" stroke="#00ff00" stroke-width="1.00" stroke-linejoin="miter"/>
<path d="M313.2 347.0 L318.0 356.9 L308.3 356.9Z" fill="none" stroke="#00ff00" stroke-width="1.00" stroke-linejoin="miter"/>
<path d="M316.6 348.9 L321.5 358.8 L311.8 358.8Z" fill="none" stroke="#00ff00" stroke-width="1.00" stroke-linejoin="miter"/>
<path d="M319.9 350.6 L324.7 360.5 L315.0 360.5Z" fill="none" stroke="#00ff00" stroke-width="1.00" stroke-linejoin="miter"/>
<path d="M322.9 352.2 L327.8 362.1 L318.1 362.1Z" fill="none" stroke="#00ff00" stroke-width="1.00" stroke-linejoin="miter"/>
<path d="M325.8 354.2 L330.6 364.1 L320.9 364.1Z" fill="none" stroke="#00ff00" stroke-width="1.00" stroke-linejoin="miter"/>
<path d="M328.5 355.8 L333.4 365.7 L323.7 365.7Z" fill="none" stroke="#00ff00" stroke-width="1.00" stroke-linejoin="miter"/>
<path d="M331.1 356.8 L335.9 366.7 L326.2 366.7Z" fill="none" stroke="#00ff00" stroke-width="1.00" stroke-linejoin="miter"/>
<path d="M333.5 357.6 L338.4 367.5 L328.7 367.5Z" fill="none" stroke="#00ff00" stroke-width="1.00" stroke-linejoin="miter"/>
<path d="M335.9 358.2 L340.7 368.1 L331.0 368.1Z" fill="none" stroke="#00ff00" stroke-width="1.00" stroke-linejoin="miter"/>
<path d="M338.1 358.7 L342.9 368.6 L333.2 368.6Z" fill="none" stroke="#00ff00" stroke-width="1.00" stroke-linejoin="miter"/>
<path d="M340.2 359.2 L345.1 369.1 L335.4 369.1Z" fill="none" stroke="#00ff00" stroke-width="1.00" stroke-linejoin="miter"/>
<path d="M342.3 359.5 L347.1 369.4 L337.4 369.4Z" fill="none" stroke="#00ff00" stroke-width="1.00" stroke-linejoin="miter"/>
<path d="M50.0 247.9 L54.9 257.8 L45.2 257.8Z" fill="none" stroke="#ff8000" stroke-width="1.00" stroke-linejoin="miter"/>
<path d="M183.6 254.7 L188.4 264.6 L178.7 264.6Z" fill="none" stroke="#ff8000" stroke-width="1.00" stroke-linejoin="miter"/>
<path d="M216.7 260.3 L221.6 270.2 L211.9 270.2Z" fill="none" stroke="#ff8000" stroke-width="1.00" stroke-linejoin="miter"/>
<path d="M236.5 265.2 L241.4 275.1 L231.7 275.1Z" fill="none" stroke="#ff8000" stroke-width="1.00" stroke-linejoin="miter"/>
<path d="M250.7 265.2 L255.6 275.1 L245.9 275.1Z" fill="none" stroke="#ff8000" stroke-width="1.00" stroke-linejoin="miter"/>
<path d="M261.8 266.5 L266.6 276.4 L256.9 276.4Z" fill="none" stroke="#ff8000" stroke-width="1.00" stroke-linejoin="miter"/>
<path d="M270.8 268.5 L275.7 278.4 L266.0 278.4Z" fill="none" stroke="#ff8000" stroke-width="1.00" stroke-linejoin="miter"/>
<path d="M278.5 271.8 L283.4 281.7 L273.7 281.7Z" fill="none" stroke="#ff8000" stroke-width="1.00" stroke-linejoin="miter"/>
<path d="M285.2 274.1 L290.0 284.0 L280.3 284.0Z" fill="none" stroke="#ff8000" stroke-width="1.00" stroke-linejoin="miter"/>
<path d="M291.1 276.6 L295.9 286.5 L286.2 286.5Z" fill="none" stroke="#ff8000" stroke-width="1.00" stroke-linejoin="miter"/>
<path d="M296.3 279.1 L301.2 289.0 L291.5 289.0Z" fill="none" stroke="#ff8000" stroke-width="1.00" stroke-linejoin="miter"/>
<path d="M301.1 281.5 L305.9 291.4 L296.2 291.4Z" fill="none" stroke="#ff8000" stroke-width="1.00" stroke-linejoin="miter"/>
<path d="M305.5 283.8 L310.3 293.7 L300.6 293.7Z" fill="none" stroke="#ff8000" stroke-width="1.00" stroke-linejoin="miter"/>
<path d="M309.5 286.1 L314.3 296.0 L304.6 296.0Z" fill="none" stroke="#ff8000" stroke-width="1.00" stroke-linejoin="miter"/>
<path d="M313.2 288.3 L318.0 298.2 L308.3 298.2Z" fill="none" stroke="#ff8000" stroke-width="1.00" stroke-linejoin="miter"/>
<path d="M316.6 290.4 L321.5 300.3 L311.8 300.3Z" fill="none" stroke="#ff8000" stroke-width="1.00" stroke-linejoin="miter"/>
<path d="M319.9 292.3 L324.7 302.2 L315.0 302.2Z" fill="none" stroke="#ff8000" stroke-width="1.00" stroke-linejoin="miter"/>
<path d="M322.9 294.2 L327.8 304.1 L318.1 304.1Z" fill="none" stroke="#ff8000" stroke-width="1.00" stroke-linejoin="miter"/>
<path d="M325.8 296.0 L330.6 305.9 L320.9 305.9Z" fill="none" stroke="#ff8000" stroke-width="1.00" stroke-linejoin="miter"/>
<path d="M328.5 297.7 L333.4 307.6 L323.7 307.6Z" fill="none" stroke="#ff8000" stroke-width="1.00" stroke-linejoin="miter"/>
<path d="M331.1 299.4 L335.9 309.3 L326.2 309.3Z" fill="none" stroke="#ff8000" stroke-width="1.00" stroke-linejoin="miter"/>
<path d="M333.5 300.9 L338.4 310.8 L328.7 310.8Z" fill="none" stroke="#ff8000" stroke-width="1.00" stroke-linejoin="miter"/>
<path d="M335.9 302.5 L340.7 312.4 L331.0 312.4Z" fill="none" stroke="#ff8000" stroke-width="1.00" stroke-linejoin="miter"/>
<path d="M338.1 303.9 L342.9 313.8 L333.2 313.8Z" fill="none" stroke="#ff8000" stroke-width="1.00" stroke-linejoin="miter"/>
<path d="M340.2 305.4 L345.1 315.3 L335.4 315.3Z" fill="none" stroke="#ff8000" stroke-width="1.00" stroke-linejoin="miter"/>
<path d="M342.3 306.7 L347.1 316.6 L337.4 316.6Z" fill="none" stroke="#ff8000" stroke-width="1.00" stroke-linejoin="miter"/>
</g>
<g clip-path="url(#cp1)" fill="none" stroke-width="2" stroke-linejoin="round">
<path d="M52.0 254.0 L54.0 254.0 L56.0 254.1 L58.0 254.1 L60.0 254.1 L62.0 254.1 L64.0 254.1 L66.0 254.1 L68.0 254.1 L70.0 254.2 L72.0 254.2 L74.0 254.2 L76.0 254.2 L78.0 254.2 L80.0 254.2 L82.0 254.2 L84.0 254.2 L86.0 254.3 L88.0 254.3 L90.0 254.3 L92.0 254.3 L94.0 254.3 L96.0 254.3 L98.0 254.3 L100.0 254.4 L102.0 254.4 L104.0 254.4 L106.0 254.4 L108.0 254.5 L110.0 254.5 L112.0 254.5 L114.0 254.5 L116.0 254.6 L118.0 254.6 L120.0 254.6 L122.0 254.7 L124.0 254.7 L126.0 254.8 L128.0 254.8 L130.0 254.8 L132.0 254.9 L134.0 254.9 L136.0 255.0 L138.0 255.1 L140.0 255.1 L142.0 255.2 L144.0 255.2 L146.0 255.3 L148.0 255.4 L150.0 255.5 L152.0 255.5 L154.0 255.6 L156.0 255.7 L158.0 255.8 L160.0 255.9 L162.0 256.0 L164.0 256.1 L166.0 256.2 L168.0 256.3 L170.0 256.4 L172.0 256.6 L174.0 256.7 L176.0 256.8 L178.0 257.0 L180.0 257.1 L182.0 257.2 L184.0 257.4 L186.0 257.6 L188.0 257.7 L190.0 257.9 L192.0 258.1 L194.0 258.2 L196.0 258.4 L198.0 258.6 L200.0 258.8 L202.0 259.0 L204.0 259.2 L206.0 259.4 L208.0 259.6 L210.0 259.9 L212.0 260.1 L214.0 260.3 L216.0 260.6 L218.0 260.8 L220.0 261.1 L222.0 261.3 L224.0 261.6 L226.0 261.9 L228.0 262.2 L230.0 262.5 L232.0 262.8 L234.0 263.1 L236.0 263.4 L238.0 263.7 L240.0 264.1 L242.0 264.4 L244.0 264.8 L246.0 265.1 L248.0 265.5 L250.0 265.9 L252.0 266.3 L254.0 266.8 L256.0 267.2 L258.0 267.6 L260.0 268.1 L262.0 268.6 L264.0 269.1 L266.0 269.6 L268.0 270.2 L270.0 270.7 L272.0 271.3 L274.0 271.9 L276.0 272.5 L278.0 273.1 L280.0 273.8 L282.0 274.5 L284.0 275.2 L286.0 275.9 L288.0 276.6 L290.0 277.4 L292.0 278.2 L294.0 279.0 L296.0 279.9 L298.0 280.7 L300.0 281.6 L302.0 282.6 L304.0 283.5 L306.0 284.5 L308.0 285.5 L310.0 286.6 L312.0 287.6 L314.0 288.7 L316.0 289.9 L318.0 291.0 L320.0 292.2 L322.0 293.5 L324.0 294.7 L326.0 296.1 L328.0 297.4 L330.0 298.8 L332.0 300.2 L334.0 301.6 L336.0 303.1 L338.0 304.6 L340.0 306.2 L342.0 307.8 L344.0 309.4 L346.0 311.1 L348.0 312.8 L350.0 314.6 L352.0 316.3 L354.0 318.1 L356.0 320.0 L358.0 321.8 L360.0 323.7 L362.0 325.6 L364.0 327.6 L366.0 329.5 L368.0 331.6 L370.0 333.6 L372.0 335.6 L374.0 337.7 L376.0 339.8 L378.0 341.9 L380.0 344.1 L382.0 346.2 L384.0 348.4 L386.0 350.6 L388.0 352.8 L390.0 355.1 L392.0 357.3 L394.0 359.6 L396.0 361.9 L398.0 364.2 L400.0 366.5 L402.0 368.8" stroke="#ff8000"/>
<path d="M52.0 254.4 L54.0 254.4 L56.0 254.5 L58.0 254.5 L60.0 254.5 L62.0 254.6 L64.0 254.6 L66.0 254.6 L68.0 254.7 L70.0 254.7 L72.0 254.7 L74.0 254.8 L76.0 254.8 L78.0 254.8 L80.0 254.9 L82.0 254.9 L84.0 255.0 L86.0 255.0 L88.0 255.0 L90.0 255.1 L92.0 255.1 L94.0 255.2 L96.0 255.2 L98.0 255.3 L100.0 255.4 L102.0 255.4 L104.0 255.5 L106.0 255.5 L108.0 255.6 L110.0 255.7 L112.0 255.8 L114.0 255.8 L116.0 255.9 L118.0 256.0 L120.0 256.1 L122.0 256.2 L124.0 256.3 L126.0 256.4 L128.0 256.5 L130.0 256.6 L132.0 256.7 L134.0 256.8 L136.0 257.0 L138.0 257.1 L140.0 257.2 L142.0 257.4 L144.0 257.5 L146.0 257.7 L148.0 257.8 L150.0 258.0 L152.0 258.2 L154.0 258.4 L156.0 258.5 L158.0 258.7 L160.0 258.9 L162.0 259.1 L164.0 259.3 L166.0 259.6 L168.0 259.8 L170.0 260.0 L172.0 260.3 L174.0 260.5 L176.0 260.8 L178.0 261.0 L180.0 261.3 L182.0 261.6 L184.0 261.9 L186.0 262.2 L188.0 262.5 L190.0 262.8 L192.0 263.1 L194.0 263.4 L196.0 263.8 L198.0 264.1 L200.0 264.5 L202.0 264.9 L204.0 265.3 L206.0 265.7 L208.0 266.1 L210.0 266.5 L212.0 266.9 L214.0 267.4 L216.0 267.8 L218.0 268.3 L220.0 268.8 L222.0 269.3 L224.0 269.9 L226.0 270.4 L228.0 271.0 L230.0 271.5 L232.0 272.1 L234.0 272.7 L236.0 273.4 L238.0 274.0 L240.0 274.7 L242.0 275.4 L244.0 276.1 L246.0 276.8 L248.0 277.6 L250.0 278.3 L252.0 279.1 L254.0 280.0 L256.0 280.8 L258.0 281.7 L260.0 282.6 L262.0 283.5 L264.0 284.4 L266.0 285.4 L268.0 286.4 L270.0 287.4 L272.0 288.4 L274.0 289.5 L276.0 290.6 L278.0 291.7 L280.0 292.9 L282.0 294.0 L284.0 295.2 L286.0 296.4 L288.0 297.7 L290.0 298.9 L292.0 300.2 L294.0 301.5 L296.0 302.9 L298.0 304.2 L300.0 305.6 L302.0 307.0 L304.0 308.4 L306.0 309.8 L308.0 311.2 L310.0 312.7 L312.0 314.1 L314.0 315.6 L316.0 317.1 L318.0 318.7 L320.0 320.2 L322.0 321.7 L324.0 323.3 L326.0 324.9 L328.0 326.4 L330.0 328.0 L332.0 329.7 L334.0 331.3 L336.0 332.9 L338.0 334.5 L340.0 336.2 L342.0 337.9 L344.0 339.5 L346.0 341.2 L348.0 342.9 L350.0 344.6 L352.0 346.3 L354.0 348.0 L356.0 349.7 L358.0 351.4 L360.0 353.1 L362.0 354.8 L364.0 356.5 L366.0 358.3 L368.0 360.0 L370.0 361.7 L372.0 363.5 L374.0 365.2 L376.0 366.9 L378.0 368.7 L380.0 370.4 L382.0 372.1 L384.0 373.8 L386.0 375.6 L388.0 377.3 L390.0 379.0 L392.0 380.7 L394.0 382.4 L396.0 384.1 L398.0 385.9 L400.0 387.5 L402.0 389.2" stroke="#ff0000"/>
<path d="M52.0 255.9 L54.0 255.9 L56.0 255.9 L58.0 255.9 L60.0 256.0 L62.0 256.0 L64.0 256.1 L66.0 256.1 L68.0 256.2 L70.0 256.3 L72.0 256.4 L74.0 256.4 L76.0 256.5 L78.0 256.6 L80.0 256.8 L82.0 256.9 L84.0 257.0 L86.0 257.1 L88.0 257.3 L90.0 257.4 L92.0 257.6 L94.0 257.8 L96.0 257.9 L98.0 258.1 L100.0 258.3 L102.0 258.5 L104.0 258.8 L106.0 259.0 L108.0 259.2 L110.0 259.5 L112.0 259.7 L114.0 260.0 L116.0 260.3 L118.0 260.5 L120.0 260.8 L122.0 261.1 L124.0 261.4 L126.0 261.8 L128.0 262.1 L130.0 262.5 L132.0 262.8 L134.0 263.2 L136.0 263.6 L138.0 263.9 L140.0 264.3 L142.0 264.8 L144.0 265.2 L146.0 265.6 L148.0 266.1 L150.0 266.5 L152.0 267.0 L154.0 267.5 L156.0 268.0 L158.0 268.5 L160.0 269.0 L162.0 269.5 L164.0 270.1 L166.0 270.6 L168.0 271.2 L170.0 271.8 L172.0 272.4 L174.0 273.0 L176.0 273.7 L178.0 274.3 L180.0 275.0 L182.0 275.7 L184.0 276.5 L186.0 277.2 L188.0 278.0 L190.0 278.8 L192.0 279.6 L194.0 280.5 L196.0 281.4 L198.0 282.3 L200.0 283.2 L202.0 284.2 L204.0 285.2 L206.0 286.3 L208.0 287.3 L210.0 288.4 L212.0 289.5 L214.0 290.6 L216.0 291.8 L218.0 292.9 L220.0 294.1 L222.0 295.3 L224.0 296.5 L226.0 297.7 L228.0 298.9 L230.0 300.2 L232.0 301.4 L234.0 302.7 L236.0 303.9 L238.0 305.2 L240.0 306.4 L242.0 307.7 L244.0 309.1 L246.0 310.4 L248.0 311.7 L250.0 313.1 L252.0 314.5 L254.0 315.9 L256.0 317.3 L258.0 318.8 L260.0 320.3 L262.0 321.8 L264.0 323.4 L266.0 325.0 L268.0 326.6 L270.0 328.3 L272.0 330.0 L274.0 331.7 L276.0 333.5 L278.0 335.2 L280.0 337.0 L282.0 338.9 L284.0 340.7 L286.0 342.5 L288.0 344.4 L290.0 346.2 L292.0 348.0 L294.0 349.9 L296.0 351.7 L298.0 353.5 L300.0 355.3 L302.0 357.0 L304.0 358.8 L306.0 360.5 L308.0 362.1 L310.0 363.8 L312.0 365.4 L314.0 366.9 L316.0 368.5 L318.0 370.0 L320.0 371.6 L322.0 373.1 L324.0 374.7 L326.0 376.3 L328.0 377.9 L330.0 379.6 L332.0 381.2 L334.0 382.9 L336.0 384.6 L338.0 386.3 L340.0 388.0 L342.0 389.6 L344.0 391.3 L346.0 392.8 L348.0 394.4 L350.0 395.9 L352.0 397.4 L354.0 398.8 L356.0 400.2 L358.0 401.5 L360.0 402.9 L362.0 404.3 L364.0 405.6 L366.0 407.0 L368.0 408.3 L370.0 409.6 L372.0 410.9 L374.0 412.3 L376.0 413.6 L378.0 414.9 L380.0 416.2 L382.0 417.5 L384.0 418.8 L386.0 420.0 L388.0 421.3 L390.0 422.6 L392.0 423.8 L394.0 425.0 L396.0 426.2 L398.0 427.3 L400.0 428.5 L402.0 429.6" stroke="#00ff00"/>
<path d="M52.30 254.15 H401.70" stroke="#000" stroke-width="2.6"/>
</g>
<g clip-path="url(#cm1)">
<circle cx="83.9" cy="255.0" r="3.5" fill="#00ff00"/>
<circle cx="218.4" cy="294.4" r="3.5" fill="#00ff00"/>
<circle cx="251.6" cy="322.2" r="3.5" fill="#00ff00"/>
<circle cx="271.4" cy="340.9" r="3.5" fill="#00ff00"/>
<circle cx="285.6" cy="349.0" r="3.5" fill="#00ff00"/>
<circle cx="296.7" cy="357.1" r="3.5" fill="#00ff00"/>
<circle cx="305.8" cy="363.3" r="3.5" fill="#00ff00"/>
<circle cx="313.4" cy="371.0" r="3.5" fill="#00ff00"/>
<circle cx="320.1" cy="375.5" r="3.5" fill="#00ff00"/>
<circle cx="326.0" cy="378.4" r="3.5" fill="#00ff00"/>
<circle cx="331.3" cy="382.7" r="3.5" fill="#00ff00"/>
<circle cx="336.0" cy="385.8" r="3.5" fill="#00ff00"/>
<circle cx="340.4" cy="388.1" r="3.5" fill="#00ff00"/>
<circle cx="344.4" cy="390.4" r="3.5" fill="#00ff00"/>
<circle cx="348.1" cy="392.3" r="3.5" fill="#00ff00"/>
<circle cx="351.6" cy="393.9" r="3.5" fill="#00ff00"/>
<circle cx="354.8" cy="394.8" r="3.5" fill="#00ff00"/>
<circle cx="357.8" cy="395.5" r="3.5" fill="#00ff00"/>
<circle cx="360.7" cy="395.6" r="3.5" fill="#00ff00"/>
<circle cx="363.4" cy="395.5" r="3.5" fill="#00ff00"/>
<circle cx="366.0" cy="395.3" r="3.5" fill="#00ff00"/>
<circle cx="368.5" cy="394.9" r="3.5" fill="#00ff00"/>
<circle cx="370.8" cy="394.1" r="3.5" fill="#00ff00"/>
<circle cx="373.0" cy="393.3" r="3.5" fill="#00ff00"/>
<circle cx="375.2" cy="392.4" r="3.5" fill="#00ff00"/>
<circle cx="377.2" cy="391.3" r="3.5" fill="#00ff00"/>
<circle cx="83.9" cy="253.9" r="3.5" fill="#ff8000"/>
<circle cx="218.4" cy="264.3" r="3.5" fill="#ff8000"/>
<circle cx="251.6" cy="264.3" r="3.5" fill="#ff8000"/>
<circle cx="271.4" cy="272.2" r="3.5" fill="#ff8000"/>
<circle cx="285.6" cy="280.8" r="3.5" fill="#ff8000"/>
<circle cx="296.7" cy="286.1" r="3.5" fill="#ff8000"/>
<circle cx="305.8" cy="292.1" r="3.5" fill="#ff8000"/>
<circle cx="313.4" cy="298.1" r="3.5" fill="#ff8000"/>
<circle cx="320.1" cy="304.1" r="3.5" fill="#ff8000"/>
<circle cx="326.0" cy="308.0" r="3.5" fill="#ff8000"/>
<circle cx="331.3" cy="312.9" r="3.5" fill="#ff8000"/>
<circle cx="336.0" cy="318.4" r="3.5" fill="#ff8000"/>
<circle cx="340.4" cy="321.9" r="3.5" fill="#ff8000"/>
<circle cx="344.4" cy="324.7" r="3.5" fill="#ff8000"/>
<circle cx="348.1" cy="327.5" r="3.5" fill="#ff8000"/>
<circle cx="351.6" cy="330.3" r="3.5" fill="#ff8000"/>
<circle cx="354.8" cy="333.3" r="3.5" fill="#ff8000"/>
<circle cx="357.8" cy="336.5" r="3.5" fill="#ff8000"/>
<circle cx="360.7" cy="339.7" r="3.5" fill="#ff8000"/>
<circle cx="363.4" cy="342.9" r="3.5" fill="#ff8000"/>
<circle cx="366.0" cy="346.2" r="3.5" fill="#ff8000"/>
<circle cx="368.5" cy="349.4" r="3.5" fill="#ff8000"/>
<circle cx="370.8" cy="352.8" r="3.5" fill="#ff8000"/>
<circle cx="373.0" cy="356.0" r="3.5" fill="#ff8000"/>
<circle cx="375.2" cy="359.4" r="3.5" fill="#ff8000"/>
<circle cx="377.2" cy="362.7" r="3.5" fill="#ff8000"/>
</g>
<g font-size="17.5" fill="#000" text-anchor="end">
<text x="49.1" y="259.4" textLength="25.4" lengthAdjust="spacingAndGlyphs">1.0</text>
<text x="49.1" y="286.2" textLength="25.4" lengthAdjust="spacingAndGlyphs">0.8</text>
<text x="49.1" y="320.8" textLength="25.4" lengthAdjust="spacingAndGlyphs">0.6</text>
<text x="49.1" y="369.6" textLength="25.4" lengthAdjust="spacingAndGlyphs">0.4</text>
<text x="49.1" y="453.0" textLength="25.4" lengthAdjust="spacingAndGlyphs">0.2</text>
</g>
<text transform="translate(12.8 436.4) rotate(-90)" font-size="17.9" fill="#000"><tspan font-style="italic">P</tspan><tspan font-size="12.85" dy="3.6">LLCHAMP,MDM</tspan><tspan dy="-3.6">(k)/</tspan><tspan font-style="italic">P</tspan><tspan font-size="12.85" dy="3.6">CDM</tspan><tspan dy="-3.6">(k)</tspan></text>
<g font-size="16.4" fill="#000">
<text transform="translate(67.90 280.95) scale(0.958 1)" >L5</text>
<circle cx="100.1" cy="276.4" r="5" fill="#000"/>
<text transform="translate(67.90 302.25) scale(0.958 1)" >L10</text>
<path d="M107.4 294.4 l4.2 8.1 h-8.4z" fill="none" stroke="#222" stroke-width="0.9"/>
<text transform="translate(70.50 345.45) scale(0.958 1)" >z=0.3</text>
</g>
<g font-size="14.2">
<text transform="translate(74.80 366.85) scale(0.958 1)" fill="#ff0000"><tspan font-style="italic">m</tspan><tspan font-size="10.0" dy="2.4">WDM</tspan><tspan dy="-2.4">=0.5 keV, </tspan><tspan font-style="italic">r</tspan><tspan font-size="10.0" dy="2.4">warm</tspan><tspan dy="-2.4">=0.5</tspan></text>
<text transform="translate(75.80 388.55) scale(0.958 1)" fill="#00ff00"><tspan font-style="italic">τ</tspan><tspan font-size="10.0" dy="2.4">Ch</tspan><tspan dy="-2.4">=10 yr, </tspan><tspan font-style="italic">r</tspan><tspan font-size="10.0" dy="2.4">Ch</tspan><tspan dy="-2.4">=0.5</tspan></text>
<text transform="translate(77.00 409.55) scale(0.958 1)" fill="#0000ff"><tspan font-style="italic">m</tspan><tspan font-size="10.0" dy="2.4">WDM</tspan><tspan dy="-2.4">=1 keV, </tspan><tspan font-style="italic">r</tspan><tspan font-size="10.0" dy="2.4">warm</tspan><tspan dy="-2.4">=0.8</tspan></text>
<text transform="translate(75.80 431.25) scale(0.958 1)" fill="#ff8000"><tspan font-style="italic">τ</tspan><tspan font-size="10.0" dy="2.4">Ch</tspan><tspan dy="-2.4">=1 yr, </tspan><tspan font-style="italic">r</tspan><tspan font-size="10.0" dy="2.4">Ch</tspan><tspan dy="-2.4">=0.85</tspan></text>
</g>
</g>
<g id="panel2">
<rect x="52.30" y="464.80" width="348.20" height="214.60" fill="none" stroke="#747474" stroke-width="0.85"/>
<path d="M87.24 679.40 v-1.7 M87.24 464.80 v1.7 M107.68 679.40 v-1.7 M107.68 464.80 v1.7 M122.18 679.40 v-1.7 M122.18 464.80 v1.7 M133.43 679.40 v-1.7 M133.43 464.80 v1.7 M142.62 679.40 v-1.7 M142.62 464.80 v1.7 M150.39 679.40 v-1.7 M150.39 464.80 v1.7 M157.12 679.40 v-1.7 M157.12 464.80 v1.7 M163.06 679.40 v-1.7 M163.06 464.80 v1.7 M168.37 679.40 v-3.9 M168.37 464.80 v3.9 M203.31 679.40 v-1.7 M203.31 464.80 v1.7 M223.74 679.40 v-1.7 M223.74 464.80 v1.7 M238.25 679.40 v-1.7 M238.25 464.80 v1.7 M249.49 679.40 v-1.7 M249.49 464.80 v1.7 M258.68 679.40 v-1.7 M258.68 464.80 v1.7 M266.45 679.40 v-1.7 M266.45 464.80 v1.7 M273.19 679.40 v-1.7 M273.19 464.80 v1.7 M279.12 679.40 v-1.7 M279.12 464.80 v1.7 M284.43 679.40 v-3.9 M284.43 464.80 v3.9 M319.37 679.40 v-1.7 M319.37 464.80 v1.7 M339.81 679.40 v-1.7 M339.81 464.80 v1.7 M354.31 679.40 v-1.7 M354.31 464.80 v1.7 M365.56 679.40 v-1.7 M365.56 464.80 v1.7 M374.75 679.40 v-1.7 M374.75 464.80 v1.7 M382.52 679.40 v-1.7 M382.52 464.80 v1.7 M389.25 679.40 v-1.7 M389.25 464.80 v1.7 M395.19 679.40 v-1.7 M395.19 464.80 v1.7 M52.30 652.54 h1.7 M400.50 652.54 h-1.7 M52.30 630.60 h1.7 M400.50 630.60 h-1.7 M52.30 612.05 h1.7 M400.50 612.05 h-1.7 M52.30 595.98 h3.9 M400.50 595.98 h-3.9 M52.30 581.80 h1.7 M400.50 581.80 h-1.7 M52.30 569.12 h1.7 M400.50 569.12 h-1.7 M52.30 557.65 h1.7 M400.50 557.65 h-1.7 M52.30 547.18 h3.9 M400.50 547.18 h-3.9 M52.30 537.55 h1.7 M400.50 537.55 h-1.7 M52.30 528.63 h1.7 M400.50 528.63 h-1.7 M52.30 520.32 h1.7 M400.50 520.32 h-1.7 M52.30 512.56 h3.9 M400.50 512.56 h-3.9 M52.30 505.26 h1.7 M400.50 505.26 h-1.7 M52.30 498.38 h1.7 M400.50 498.38 h-1.7 M52.30 491.87 h1.7 M400.50 491.87 h-1.7 M52.30 485.70 h3.9 M400.50 485.70 h-3.9 M52.30 479.83 h1.7 M400.50 479.83 h-1.7 M52.30 474.23 h1.7 M400.50 474.23 h-1.7 M52.30 468.88 h1.7 M400.50 468.88 h-1.7" stroke="#747474" stroke-width="0.8" fill="none"/>
<g font-size="16.4" fill="#808080">
<text transform="translate(264.50 652.60) scale(0.958 1)" ><tspan font-style="italic">k</tspan><tspan font-size="12.1" dy="2.8">Nyq</tspan><tspan dy="-2.8">(L10)</tspan></text>
<text transform="translate(320.40 673.80) scale(0.958 1)" ><tspan font-style="italic">k</tspan><tspan font-size="12.1" dy="2.8">Nyq</tspan><tspan dy="-2.8">(L5)</tspan></text>
</g>
<path d="M308.1 465.80 V679.40" stroke="#707070" stroke-width="1.6" stroke-dasharray="8.4 3.65" fill="none"/>
<path d="M343.1 467.55 V679.40" stroke="#707070" stroke-width="1.6" stroke-dasharray="3.2 2.75" fill="none"/>
<g clip-path="url(#cp2)" fill="none" stroke-width="2" stroke-linejoin="round">
<path d="M52.0 485.8 L54.0 485.8 L56.0 485.9 L58.0 485.9 L60.0 485.9 L62.0 486.0 L64.0 486.0 L66.0 486.1 L68.0 486.1 L70.0 486.2 L72.0 486.2 L74.0 486.2 L76.0 486.3 L78.0 486.3 L80.0 486.4 L82.0 486.4 L84.0 486.5 L86.0 486.5 L88.0 486.6 L90.0 486.6 L92.0 486.7 L94.0 486.7 L96.0 486.8 L98.0 486.9 L100.0 486.9 L102.0 487.0 L104.0 487.0 L106.0 487.1 L108.0 487.2 L110.0 487.2 L112.0 487.3 L114.0 487.4 L116.0 487.4 L118.0 487.5 L120.0 487.6 L122.0 487.7 L124.0 487.8 L126.0 487.8 L128.0 487.9 L130.0 488.0 L132.0 488.1 L134.0 488.2 L136.0 488.3 L138.0 488.4 L140.0 488.5 L142.0 488.6 L144.0 488.7 L146.0 488.8 L148.0 488.9 L150.0 489.0 L152.0 489.1 L154.0 489.2 L156.0 489.3 L158.0 489.5 L160.0 489.6 L162.0 489.7 L164.0 489.9 L166.0 490.0 L168.0 490.1 L170.0 490.3 L172.0 490.4 L174.0 490.6 L176.0 490.8 L178.0 491.0 L180.0 491.2 L182.0 491.4 L184.0 491.6 L186.0 491.8 L188.0 492.1 L190.0 492.4 L192.0 492.7 L194.0 493.0 L196.0 493.3 L198.0 493.6 L200.0 494.0 L202.0 494.3 L204.0 494.7 L206.0 495.1 L208.0 495.5 L210.0 495.9 L212.0 496.4 L214.0 496.8 L216.0 497.3 L218.0 497.7 L220.0 498.2 L222.0 498.7 L224.0 499.2 L226.0 499.7 L228.0 500.3 L230.0 500.8 L232.0 501.4 L234.0 501.9 L236.0 502.5 L238.0 503.1 L240.0 503.7 L242.0 504.3 L244.0 504.9 L246.0 505.6 L248.0 506.2 L250.0 506.9 L252.0 507.6 L254.0 508.3 L256.0 509.0 L258.0 509.8 L260.0 510.5 L262.0 511.3 L264.0 512.1 L266.0 512.9 L268.0 513.8 L270.0 514.7 L272.0 515.6 L274.0 516.5 L276.0 517.4 L278.0 518.4 L280.0 519.4 L282.0 520.4 L284.0 521.4 L286.0 522.5 L288.0 523.6 L290.0 524.7 L292.0 525.9 L294.0 527.0 L296.0 528.3 L298.0 529.5 L300.0 530.8 L302.0 532.1 L304.0 533.4 L306.0 534.8 L308.0 536.2 L310.0 537.6 L312.0 539.1 L314.0 540.6 L316.0 542.1 L318.0 543.7 L320.0 545.3 L322.0 547.0 L324.0 548.7 L326.0 550.4 L328.0 552.2 L330.0 554.0 L332.0 555.9 L334.0 557.8 L336.0 559.7 L338.0 561.7 L340.0 563.8 L342.0 565.8 L344.0 568.0 L346.0 570.1 L348.0 572.3 L350.0 574.6 L352.0 576.8 L354.0 579.2 L356.0 581.5 L358.0 583.9 L360.0 586.4 L362.0 588.9 L364.0 591.4 L366.0 593.9 L368.0 596.5 L370.0 599.1 L372.0 601.7 L374.0 604.4 L376.0 607.1 L378.0 609.8 L380.0 612.5 L382.0 615.2 L384.0 618.0 L386.0 620.7 L388.0 623.5 L390.0 626.3 L392.0 629.1 L394.0 631.9 L396.0 634.7 L398.0 637.5 L400.0 640.4 L402.0 643.2" stroke="#0000ff"/>
</g>
<g clip-path="url(#cm2)">
<path d="M50.0 481.4 L54.9 491.3 L45.2 491.3Z" fill="none" stroke="#00ff00" stroke-width="1.00" stroke-linejoin="miter"/>
<path d="M183.6 513.9 L188.4 523.8 L178.7 523.8Z" fill="none" stroke="#00ff00" stroke-width="1.00" stroke-linejoin="miter"/>
<path d="M216.7 541.5 L221.6 551.4 L211.9 551.4Z" fill="none" stroke="#00ff00" stroke-width="1.00" stroke-linejoin="miter"/>
<path d="M236.5 549.8 L241.4 559.7 L231.7 559.7Z" fill="none" stroke="#00ff00" stroke-width="1.00" stroke-linejoin="miter"/>
<path d="M250.7 569.9 L255.6 579.8 L245.9 579.8Z" fill="none" stroke="#00ff00" stroke-width="1.00" stroke-linejoin="miter"/>
<path d="M261.8 580.7 L266.6 590.6 L256.9 590.6Z" fill="none" stroke="#00ff00" stroke-width="1.00" stroke-linejoin="miter"/>
<path d="M270.8 586.3 L275.7 596.2 L266.0 596.2Z" fill="none" stroke="#00ff00" stroke-width="1.00" stroke-linejoin="miter"/>
<path d="M278.5 588.2 L283.4 598.1 L273.7 598.1Z" fill="none" stroke="#00ff00" stroke-width="1.00" stroke-linejoin="miter"/>
<path d="M285.2 591.6 L290.0 601.5 L280.3 601.5Z" fill="none" stroke="#00ff00" stroke-width="1.00" stroke-linejoin="miter"/>
<path d="M291.1 593.9 L295.9 603.8 L286.2 603.8Z" fill="none" stroke="#00ff00" stroke-width="1.00" stroke-linejoin="miter"/>
<path d="M296.3 596.5 L301.2 606.4 L291.5 606.4Z" fill="none" stroke="#00ff00" stroke-width="1.00" stroke-linejoin="miter"/>
<path d="M301.1 599.4 L305.9 609.3 L296.2 609.3Z" fill="none" stroke="#00ff00" stroke-width="1.00" stroke-linejoin="miter"/>
<path d="M305.5 601.9 L310.3 611.8 L300.6 611.8Z" fill="none" stroke="#00ff00" stroke-width="1.00" stroke-linejoin="miter"/>
<path d="M309.5 603.2 L314.3 613.1 L304.6 613.1Z" fill="none" stroke="#00ff00" stroke-width="1.00" stroke-linejoin="miter"/>
<path d="M313.2 603.7 L318.0 613.6 L308.3 613.6Z" fill="none" stroke="#00ff00" stroke-width="1.00" stroke-linejoin="miter"/>
<path d="M316.6 604.1 L321.5 614.0 L311.8 614.0Z" fill="none" stroke="#00ff00" stroke-width="1.00" stroke-linejoin="miter"/>
<path d="M319.9 604.2 L324.7 614.1 L315.0 614.1Z" fill="none" stroke="#00ff00" stroke-width="1.00" stroke-linejoin="miter"/>
<path d="M322.9 604.2 L327.8 614.1 L318.1 614.1Z" fill="none" stroke="#00ff00" stroke-width="1.00" stroke-linejoin="miter"/>
<path d="M325.8 604.2 L330.6 614.1 L320.9 614.1Z" fill="none" stroke="#00ff00" stroke-width="1.00" stroke-linejoin="miter"/>
<path d="M328.5 604.2 L333.4 614.1 L323.7 614.1Z" fill="none" stroke="#00ff00" stroke-width="1.00" stroke-linejoin="miter"/>
<path d="M331.1 604.2 L335.9 614.1 L326.2 614.1Z" fill="none" stroke="#00ff00" stroke-width="1.00" stroke-linejoin="miter"/>
<path d="M333.5 603.8 L338.4 613.7 L328.7 613.7Z" fill="none" stroke="#00ff00" stroke-width="1.00" stroke-linejoin="miter"/>
<path d="M335.9 603.2 L340.7 613.1 L331.0 613.1Z" fill="none" stroke="#00ff00" stroke-width="1.00" stroke-linejoin="miter"/>
<path d="M338.1 602.5 L342.9 612.4 L333.2 612.4Z" fill="none" stroke="#00ff00" stroke-width="1.00" stroke-linejoin="miter"/>
<path d="M340.2 601.5 L345.1 611.4 L335.4 611.4Z" fill="none" stroke="#00ff00" stroke-width="1.00" stroke-linejoin="miter"/>
<path d="M342.3 600.2 L347.1 610.1 L337.4 610.1Z" fill="none" stroke="#00ff00" stroke-width="1.00" stroke-linejoin="miter"/>
<path d="M50.0 479.4 L54.9 489.3 L45.2 489.3Z" fill="none" stroke="#ff8000" stroke-width="1.00" stroke-linejoin="miter"/>
<path d="M183.6 482.9 L188.4 492.8 L178.7 492.8Z" fill="none" stroke="#ff8000" stroke-width="1.00" stroke-linejoin="miter"/>
<path d="M216.7 487.2 L221.6 497.1 L211.9 497.1Z" fill="none" stroke="#ff8000" stroke-width="1.00" stroke-linejoin="miter"/>
<path d="M236.5 492.7 L241.4 502.6 L231.7 502.6Z" fill="none" stroke="#ff8000" stroke-width="1.00" stroke-linejoin="miter"/>
<path d="M250.7 500.8 L255.6 510.7 L245.9 510.7Z" fill="none" stroke="#ff8000" stroke-width="1.00" stroke-linejoin="miter"/>
<path d="M261.8 506.6 L266.6 516.5 L256.9 516.5Z" fill="none" stroke="#ff8000" stroke-width="1.00" stroke-linejoin="miter"/>
<path d="M270.8 511.2 L275.7 521.1 L266.0 521.1Z" fill="none" stroke="#ff8000" stroke-width="1.00" stroke-linejoin="miter"/>
<path d="M278.5 514.6 L283.4 524.5 L273.7 524.5Z" fill="none" stroke="#ff8000" stroke-width="1.00" stroke-linejoin="miter"/>
<path d="M285.2 518.0 L290.0 527.9 L280.3 527.9Z" fill="none" stroke="#ff8000" stroke-width="1.00" stroke-linejoin="miter"/>
<path d="M291.1 521.3 L295.9 531.2 L286.2 531.2Z" fill="none" stroke="#ff8000" stroke-width="1.00" stroke-linejoin="miter"/>
<path d="M296.3 524.5 L301.2 534.4 L291.5 534.4Z" fill="none" stroke="#ff8000" stroke-width="1.00" stroke-linejoin="miter"/>
<path d="M301.1 527.6 L305.9 537.5 L296.2 537.5Z" fill="none" stroke="#ff8000" stroke-width="1.00" stroke-linejoin="miter"/>
<path d="M305.5 530.6 L310.3 540.5 L300.6 540.5Z" fill="none" stroke="#ff8000" stroke-width="1.00" stroke-linejoin="miter"/>
<path d="M309.5 533.5 L314.3 543.4 L304.6 543.4Z" fill="none" stroke="#ff8000" stroke-width="1.00" stroke-linejoin="miter"/>
<path d="M313.2 536.5 L318.0 546.4 L308.3 546.4Z" fill="none" stroke="#ff8000" stroke-width="1.00" stroke-linejoin="miter"/>
<path d="M316.6 539.3 L321.5 549.2 L311.8 549.2Z" fill="none" stroke="#ff8000" stroke-width="1.00" stroke-linejoin="miter"/>
<path d="M319.9 541.8 L324.7 551.7 L315.0 551.7Z" fill="none" stroke="#ff8000" stroke-width="1.00" stroke-linejoin="miter"/>
<path d="M322.9 544.0 L327.8 553.9 L318.1 553.9Z" fill="none" stroke="#ff8000" stroke-width="1.00" stroke-linejoin="miter"/>
<path d="M325.8 546.1 L330.6 556.0 L320.9 556.0Z" fill="none" stroke="#ff8000" stroke-width="1.00" stroke-linejoin="miter"/>
<path d="M328.5 547.9 L333.4 557.8 L323.7 557.8Z" fill="none" stroke="#ff8000" stroke-width="1.00" stroke-linejoin="miter"/>
<path d="M331.1 549.6 L335.9 559.5 L326.2 559.5Z" fill="none" stroke="#ff8000" stroke-width="1.00" stroke-linejoin="miter"/>
<path d="M333.5 551.1 L338.4 561.0 L328.7 561.0Z" fill="none" stroke="#ff8000" stroke-width="1.00" stroke-linejoin="miter"/>
<path d="M335.9 552.5 L340.7 562.4 L331.0 562.4Z" fill="none" stroke="#ff8000" stroke-width="1.00" stroke-linejoin="miter"/>
<path d="M338.1 553.7 L342.9 563.6 L333.2 563.6Z" fill="none" stroke="#ff8000" stroke-width="1.00" stroke-linejoin="miter"/>
<path d="M340.2 554.9 L345.1 564.8 L335.4 564.8Z" fill="none" stroke="#ff8000" stroke-width="1.00" stroke-linejoin="miter"/>
<path d="M342.3 555.9 L347.1 565.8 L337.4 565.8Z" fill="none" stroke="#ff8000" stroke-width="1.00" stroke-linejoin="miter"/>
</g>
<g clip-path="url(#cp2)" fill="none" stroke-width="2" stroke-linejoin="round">
<path d="M52.0 485.8 L54.0 485.9 L56.0 486.0 L58.0 486.0 L60.0 486.1 L62.0 486.2 L64.0 486.2 L66.0 486.3 L68.0 486.3 L70.0 486.4 L72.0 486.4 L74.0 486.5 L76.0 486.5 L78.0 486.6 L80.0 486.6 L82.0 486.6 L84.0 486.7 L86.0 486.7 L88.0 486.7 L90.0 486.8 L92.0 486.8 L94.0 486.8 L96.0 486.9 L98.0 486.9 L100.0 486.9 L102.0 487.0 L104.0 487.0 L106.0 487.0 L108.0 487.1 L110.0 487.1 L112.0 487.1 L114.0 487.2 L116.0 487.2 L118.0 487.3 L120.0 487.3 L122.0 487.3 L124.0 487.4 L126.0 487.4 L128.0 487.5 L130.0 487.6 L132.0 487.6 L134.0 487.7 L136.0 487.8 L138.0 487.8 L140.0 487.9 L142.0 488.0 L144.0 488.1 L146.0 488.2 L148.0 488.3 L150.0 488.4 L152.0 488.5 L154.0 488.6 L156.0 488.7 L158.0 488.8 L160.0 489.0 L162.0 489.1 L164.0 489.3 L166.0 489.4 L168.0 489.6 L170.0 489.7 L172.0 489.9 L174.0 490.1 L176.0 490.3 L178.0 490.5 L180.0 490.7 L182.0 490.9 L184.0 491.1 L186.0 491.4 L188.0 491.6 L190.0 491.8 L192.0 492.1 L194.0 492.4 L196.0 492.7 L198.0 492.9 L200.0 493.2 L202.0 493.6 L204.0 493.9 L206.0 494.2 L208.0 494.6 L210.0 494.9 L212.0 495.3 L214.0 495.6 L216.0 496.0 L218.0 496.4 L220.0 496.9 L222.0 497.3 L224.0 497.7 L226.0 498.2 L228.0 498.6 L230.0 499.1 L232.0 499.6 L234.0 500.1 L236.0 500.6 L238.0 501.2 L240.0 501.7 L242.0 502.3 L244.0 502.9 L246.0 503.5 L248.0 504.1 L250.0 504.8 L252.0 505.4 L254.0 506.1 L256.0 506.8 L258.0 507.6 L260.0 508.3 L262.0 509.1 L264.0 509.9 L266.0 510.7 L268.0 511.5 L270.0 512.4 L272.0 513.3 L274.0 514.2 L276.0 515.1 L278.0 516.1 L280.0 517.1 L282.0 518.1 L284.0 519.1 L286.0 520.2 L288.0 521.3 L290.0 522.4 L292.0 523.5 L294.0 524.7 L296.0 525.9 L298.0 527.1 L300.0 528.3 L302.0 529.6 L304.0 530.9 L306.0 532.2 L308.0 533.5 L310.0 534.9 L312.0 536.3 L314.0 537.7 L316.0 539.2 L318.0 540.7 L320.0 542.2 L322.0 543.7 L324.0 545.3 L326.0 546.9 L328.0 548.5 L330.0 550.2 L332.0 551.9 L334.0 553.6 L336.0 555.3 L338.0 557.1 L340.0 559.0 L342.0 560.8 L344.0 562.7 L346.0 564.6 L348.0 566.6 L350.0 568.6 L352.0 570.6 L354.0 572.7 L356.0 574.8 L358.0 576.9 L360.0 579.1 L362.0 581.3 L364.0 583.6 L366.0 586.0 L368.0 588.5 L370.0 591.2 L372.0 593.9 L374.0 596.7 L376.0 599.6 L378.0 602.5 L380.0 605.5 L382.0 608.4 L384.0 611.4 L386.0 614.3 L388.0 617.2 L390.0 620.1 L392.0 622.9 L394.0 625.7 L396.0 628.5 L398.0 631.2 L400.0 633.9 L402.0 636.6" stroke="#ff8000"/>
<path d="M52.0 486.2 L54.0 486.3 L56.0 486.4 L58.0 486.5 L60.0 486.5 L62.0 486.6 L64.0 486.7 L66.0 486.8 L68.0 486.8 L70.0 486.9 L72.0 487.0 L74.0 487.0 L76.0 487.1 L78.0 487.1 L80.0 487.2 L82.0 487.3 L84.0 487.3 L86.0 487.4 L88.0 487.5 L90.0 487.5 L92.0 487.6 L94.0 487.7 L96.0 487.7 L98.0 487.8 L100.0 487.9 L102.0 488.0 L104.0 488.1 L106.0 488.2 L108.0 488.3 L110.0 488.4 L112.0 488.5 L114.0 488.6 L116.0 488.7 L118.0 488.8 L120.0 488.9 L122.0 489.0 L124.0 489.2 L126.0 489.3 L128.0 489.5 L130.0 489.6 L132.0 489.8 L134.0 490.0 L136.0 490.1 L138.0 490.3 L140.0 490.5 L142.0 490.7 L144.0 490.9 L146.0 491.2 L148.0 491.4 L150.0 491.7 L152.0 491.9 L154.0 492.2 L156.0 492.4 L158.0 492.7 L160.0 493.0 L162.0 493.3 L164.0 493.7 L166.0 494.0 L168.0 494.4 L170.0 494.7 L172.0 495.1 L174.0 495.5 L176.0 495.9 L178.0 496.3 L180.0 496.7 L182.0 497.2 L184.0 497.6 L186.0 498.1 L188.0 498.6 L190.0 499.1 L192.0 499.6 L194.0 500.2 L196.0 500.7 L198.0 501.3 L200.0 501.9 L202.0 502.5 L204.0 503.1 L206.0 503.8 L208.0 504.4 L210.0 505.1 L212.0 505.8 L214.0 506.6 L216.0 507.3 L218.0 508.1 L220.0 508.8 L222.0 509.6 L224.0 510.5 L226.0 511.3 L228.0 512.2 L230.0 513.1 L232.0 514.0 L234.0 514.9 L236.0 515.9 L238.0 516.8 L240.0 517.8 L242.0 518.9 L244.0 519.9 L246.0 521.0 L248.0 522.1 L250.0 523.2 L252.0 524.3 L254.0 525.5 L256.0 526.7 L258.0 527.9 L260.0 529.2 L262.0 530.5 L264.0 531.8 L266.0 533.1 L268.0 534.4 L270.0 535.8 L272.0 537.2 L274.0 538.6 L276.0 540.1 L278.0 541.5 L280.0 543.0 L282.0 544.5 L284.0 546.0 L286.0 547.5 L288.0 549.1 L290.0 550.6 L292.0 552.2 L294.0 553.8 L296.0 555.4 L298.0 557.0 L300.0 558.6 L302.0 560.2 L304.0 561.8 L306.0 563.5 L308.0 565.1 L310.0 566.8 L312.0 568.4 L314.0 570.1 L316.0 571.7 L318.0 573.4 L320.0 575.1 L322.0 576.8 L324.0 578.4 L326.0 580.1 L328.0 581.8 L330.0 583.5 L332.0 585.2 L334.0 586.8 L336.0 588.5 L338.0 590.2 L340.0 591.9 L342.0 593.6 L344.0 595.2 L346.0 596.9 L348.0 598.6 L350.0 600.3 L352.0 601.9 L354.0 603.6 L356.0 605.3 L358.0 606.9 L360.0 608.6 L362.0 610.2 L364.0 611.9 L366.0 613.5 L368.0 615.2 L370.0 616.8 L372.0 618.4 L374.0 620.1 L376.0 621.7 L378.0 623.3 L380.0 624.9 L382.0 626.5 L384.0 628.1 L386.0 629.7 L388.0 631.2 L390.0 632.8 L392.0 634.4 L394.0 635.9 L396.0 637.5 L398.0 639.0 L400.0 640.5 L402.0 642.0" stroke="#ff0000"/>
<path d="M52.0 488.2 L54.0 488.2 L56.0 488.2 L58.0 488.1 L60.0 488.1 L62.0 488.2 L64.0 488.2 L66.0 488.3 L68.0 488.3 L70.0 488.4 L72.0 488.5 L74.0 488.7 L76.0 488.8 L78.0 489.0 L80.0 489.1 L82.0 489.3 L84.0 489.5 L86.0 489.8 L88.0 490.0 L90.0 490.2 L92.0 490.5 L94.0 490.8 L96.0 491.1 L98.0 491.4 L100.0 491.8 L102.0 492.1 L104.0 492.5 L106.0 492.9 L108.0 493.3 L110.0 493.7 L112.0 494.1 L114.0 494.5 L116.0 495.0 L118.0 495.5 L120.0 496.0 L122.0 496.4 L124.0 497.0 L126.0 497.5 L128.0 498.0 L130.0 498.6 L132.0 499.1 L134.0 499.7 L136.0 500.3 L138.0 500.9 L140.0 501.6 L142.0 502.2 L144.0 502.8 L146.0 503.5 L148.0 504.2 L150.0 504.8 L152.0 505.5 L154.0 506.3 L156.0 507.0 L158.0 507.7 L160.0 508.5 L162.0 509.2 L164.0 510.0 L166.0 510.8 L168.0 511.6 L170.0 512.4 L172.0 513.3 L174.0 514.1 L176.0 515.0 L178.0 515.9 L180.0 516.9 L182.0 517.9 L184.0 518.9 L186.0 519.9 L188.0 521.0 L190.0 522.1 L192.0 523.2 L194.0 524.4 L196.0 525.6 L198.0 526.9 L200.0 528.2 L202.0 529.6 L204.0 531.0 L206.0 532.4 L208.0 533.9 L210.0 535.4 L212.0 536.9 L214.0 538.5 L216.0 540.0 L218.0 541.6 L220.0 543.3 L222.0 544.9 L224.0 546.5 L226.0 548.2 L228.0 549.9 L230.0 551.5 L232.0 553.2 L234.0 554.9 L236.0 556.5 L238.0 558.2 L240.0 559.9 L242.0 561.5 L244.0 563.2 L246.0 564.8 L248.0 566.5 L250.0 568.1 L252.0 569.7 L254.0 571.3 L256.0 572.9 L258.0 574.5 L260.0 576.1 L262.0 577.6 L264.0 579.2 L266.0 580.7 L268.0 582.2 L270.0 583.8 L272.0 585.3 L274.0 586.8 L276.0 588.4 L278.0 590.0 L280.0 591.5 L282.0 593.1 L284.0 594.7 L286.0 596.4 L288.0 598.0 L290.0 599.6 L292.0 601.3 L294.0 602.9 L296.0 604.6 L298.0 606.2 L300.0 607.9 L302.0 609.6 L304.0 611.2 L306.0 612.9 L308.0 614.5 L310.0 616.2 L312.0 617.9 L314.0 619.5 L316.0 621.1 L318.0 622.8 L320.0 624.4 L322.0 626.0 L324.0 627.5 L326.0 629.1 L328.0 630.7 L330.0 632.2 L332.0 633.7 L334.0 635.2 L336.0 636.7 L338.0 638.2 L340.0 639.7 L342.0 641.1 L344.0 642.5 L346.0 643.9 L348.0 645.3 L350.0 646.7 L352.0 648.0 L354.0 649.4 L356.0 650.7 L358.0 652.0 L360.0 653.2 L362.0 654.5 L364.0 655.7 L366.0 656.9 L368.0 658.1 L370.0 659.3 L372.0 660.4 L374.0 661.6 L376.0 662.7 L378.0 663.7 L380.0 664.8 L382.0 665.8 L384.0 666.8 L386.0 667.8 L388.0 668.8 L390.0 669.7 L392.0 670.6 L394.0 671.5 L396.0 672.3 L398.0 673.2 L400.0 674.0 L402.0 674.7" stroke="#00ff00"/>
<path d="M52.30 485.85 H401.70" stroke="#000" stroke-width="2.6"/>
</g>
<g clip-path="url(#cm2)">
<circle cx="83.9" cy="488.6" r="3.5" fill="#00ff00"/>
<circle cx="218.4" cy="557.8" r="3.5" fill="#00ff00"/>
<circle cx="251.6" cy="582.2" r="3.5" fill="#00ff00"/>
<circle cx="271.4" cy="590.4" r="3.5" fill="#00ff00"/>
<circle cx="285.6" cy="595.5" r="3.5" fill="#00ff00"/>
<circle cx="296.7" cy="602.7" r="3.5" fill="#00ff00"/>
<circle cx="305.8" cy="608.4" r="3.5" fill="#00ff00"/>
<circle cx="313.4" cy="612.8" r="3.5" fill="#00ff00"/>
<circle cx="320.1" cy="617.8" r="3.5" fill="#00ff00"/>
<circle cx="326.0" cy="621.9" r="3.5" fill="#00ff00"/>
<circle cx="331.3" cy="624.9" r="3.5" fill="#00ff00"/>
<circle cx="336.0" cy="627.8" r="3.5" fill="#00ff00"/>
<circle cx="340.4" cy="629.9" r="3.5" fill="#00ff00"/>
<circle cx="344.4" cy="631.6" r="3.5" fill="#00ff00"/>
<circle cx="348.1" cy="633.2" r="3.5" fill="#00ff00"/>
<circle cx="351.6" cy="634.8" r="3.5" fill="#00ff00"/>
<circle cx="354.8" cy="635.9" r="3.5" fill="#00ff00"/>
<circle cx="357.8" cy="636.5" r="3.5" fill="#00ff00"/>
<circle cx="360.7" cy="636.2" r="3.5" fill="#00ff00"/>
<circle cx="363.4" cy="635.6" r="3.5" fill="#00ff00"/>
<circle cx="366.0" cy="635.1" r="3.5" fill="#00ff00"/>
<circle cx="368.5" cy="634.7" r="3.5" fill="#00ff00"/>
<circle cx="370.8" cy="634.1" r="3.5" fill="#00ff00"/>
<circle cx="373.0" cy="633.4" r="3.5" fill="#00ff00"/>
<circle cx="375.2" cy="632.6" r="3.5" fill="#00ff00"/>
<circle cx="377.2" cy="631.8" r="3.5" fill="#00ff00"/>
<circle cx="83.9" cy="485.7" r="3.5" fill="#ff8000"/>
<circle cx="218.4" cy="498.4" r="3.5" fill="#ff8000"/>
<circle cx="251.6" cy="504.8" r="3.5" fill="#ff8000"/>
<circle cx="271.4" cy="518.4" r="3.5" fill="#ff8000"/>
<circle cx="285.6" cy="524.1" r="3.5" fill="#ff8000"/>
<circle cx="296.7" cy="534.0" r="3.5" fill="#ff8000"/>
<circle cx="305.8" cy="540.0" r="3.5" fill="#ff8000"/>
<circle cx="313.4" cy="548.7" r="3.5" fill="#ff8000"/>
<circle cx="320.1" cy="557.1" r="3.5" fill="#ff8000"/>
<circle cx="326.0" cy="562.8" r="3.5" fill="#ff8000"/>
<circle cx="331.3" cy="567.9" r="3.5" fill="#ff8000"/>
<circle cx="336.0" cy="573.8" r="3.5" fill="#ff8000"/>
<circle cx="340.4" cy="577.9" r="3.5" fill="#ff8000"/>
<circle cx="344.4" cy="581.3" r="3.5" fill="#ff8000"/>
<circle cx="348.1" cy="584.7" r="3.5" fill="#ff8000"/>
<circle cx="351.6" cy="587.5" r="3.5" fill="#ff8000"/>
<circle cx="354.8" cy="589.6" r="3.5" fill="#ff8000"/>
<circle cx="357.8" cy="591.4" r="3.5" fill="#ff8000"/>
<circle cx="360.7" cy="592.8" r="3.5" fill="#ff8000"/>
<circle cx="363.4" cy="594.1" r="3.5" fill="#ff8000"/>
<circle cx="366.0" cy="595.1" r="3.5" fill="#ff8000"/>
<circle cx="368.5" cy="595.9" r="3.5" fill="#ff8000"/>
<circle cx="370.8" cy="596.5" r="3.5" fill="#ff8000"/>
<circle cx="373.0" cy="596.6" r="3.5" fill="#ff8000"/>
<circle cx="375.2" cy="596.5" r="3.5" fill="#ff8000"/>
<circle cx="377.2" cy="596.3" r="3.5" fill="#ff8000"/>
</g>
<g font-size="17.5" fill="#000" text-anchor="end">
<text x="49.1" y="491.1" textLength="25.4" lengthAdjust="spacingAndGlyphs">1.0</text>
<text x="49.1" y="518.0" textLength="25.4" lengthAdjust="spacingAndGlyphs">0.8</text>
<text x="49.1" y="552.6" textLength="25.4" lengthAdjust="spacingAndGlyphs">0.6</text>
<text x="49.1" y="601.4" textLength="25.4" lengthAdjust="spacingAndGlyphs">0.4</text>
<text x="49.1" y="684.8" textLength="25.4" lengthAdjust="spacingAndGlyphs">0.2</text>
</g>
<text transform="translate(12.8 668.1) rotate(-90)" font-size="17.9" fill="#000"><tspan font-style="italic">P</tspan><tspan font-size="12.85" dy="3.6">LLCHAMP,MDM</tspan><tspan dy="-3.6">(k)/</tspan><tspan font-style="italic">P</tspan><tspan font-size="12.85" dy="3.6">CDM</tspan><tspan dy="-3.6">(k)</tspan></text>
<g font-size="16.4" fill="#000">
<text transform="translate(67.90 512.70) scale(0.958 1)" >L5</text>
<circle cx="100.1" cy="508.2" r="5" fill="#000"/>
<text transform="translate(67.90 534.00) scale(0.958 1)" >L10</text>
<path d="M107.4 526.1 l4.2 8.1 h-8.4z" fill="none" stroke="#222" stroke-width="0.9"/>
<text transform="translate(68.60 577.20) scale(0.958 1)" >z=1.</text>
</g>
<g font-size="14.2">
<text transform="translate(74.80 598.60) scale(0.958 1)" fill="#ff0000"><tspan font-style="italic">m</tspan><tspan font-size="10.0" dy="2.4">WDM</tspan><tspan dy="-2.4">=0.5 keV, </tspan><tspan font-style="italic">r</tspan><tspan font-size="10.0" dy="2.4">warm</tspan><tspan dy="-2.4">=0.5</tspan></text>
<text transform="translate(75.80 620.30) scale(0.958 1)" fill="#00ff00"><tspan font-style="italic">τ</tspan><tspan font-size="10.0" dy="2.4">Ch</tspan><tspan dy="-2.4">=10 yr, </tspan><tspan font-style="italic">r</tspan><tspan font-size="10.0" dy="2.4">Ch</tspan><tspan dy="-2.4">=0.5</tspan></text>
<text transform="translate(77.00 641.30) scale(0.958 1)" fill="#0000ff"><tspan font-style="italic">m</tspan><tspan font-size="10.0" dy="2.4">WDM</tspan><tspan dy="-2.4">=1 keV, </tspan><tspan font-style="italic">r</tspan><tspan font-size="10.0" dy="2.4">warm</tspan><tspan dy="-2.4">=0.8</tspan></text>
<text transform="translate(75.80 663.00) scale(0.958 1)" fill="#ff8000"><tspan font-style="italic">τ</tspan><tspan font-size="10.0" dy="2.4">Ch</tspan><tspan dy="-2.4">=1 yr, </tspan><tspan font-style="italic">r</tspan><tspan font-size="10.0" dy="2.4">Ch</tspan><tspan dy="-2.4">=0.85</tspan></text>
</g>
</g>
<g id="panel3">
<rect x="52.40" y="694.70" width="349.40" height="215.60" fill="none" stroke="#747474" stroke-width="0.85"/>
<path d="M87.46 910.30 v-1.7 M87.46 694.70 v1.7 M107.97 910.30 v-1.7 M107.97 694.70 v1.7 M122.52 910.30 v-1.7 M122.52 694.70 v1.7 M133.81 910.30 v-1.7 M133.81 694.70 v1.7 M143.03 910.30 v-1.7 M143.03 694.70 v1.7 M150.83 910.30 v-1.7 M150.83 694.70 v1.7 M157.58 910.30 v-1.7 M157.58 694.70 v1.7 M163.54 910.30 v-1.7 M163.54 694.70 v1.7 M168.87 910.30 v-3.9 M168.87 694.70 v3.9 M203.93 910.30 v-1.7 M203.93 694.70 v1.7 M224.44 910.30 v-1.7 M224.44 694.70 v1.7 M238.99 910.30 v-1.7 M238.99 694.70 v1.7 M250.27 910.30 v-1.7 M250.27 694.70 v1.7 M259.50 910.30 v-1.7 M259.50 694.70 v1.7 M267.29 910.30 v-1.7 M267.29 694.70 v1.7 M274.05 910.30 v-1.7 M274.05 694.70 v1.7 M280.00 910.30 v-1.7 M280.00 694.70 v1.7 M285.33 910.30 v-3.9 M285.33 694.70 v3.9 M320.39 910.30 v-1.7 M320.39 694.70 v1.7 M340.90 910.30 v-1.7 M340.90 694.70 v1.7 M355.45 910.30 v-1.7 M355.45 694.70 v1.7 M366.74 910.30 v-1.7 M366.74 694.70 v1.7 M375.96 910.30 v-1.7 M375.96 694.70 v1.7 M383.76 910.30 v-1.7 M383.76 694.70 v1.7 M390.51 910.30 v-1.7 M390.51 694.70 v1.7 M396.47 910.30 v-1.7 M396.47 694.70 v1.7 M52.40 883.33 h1.7 M401.80 883.33 h-1.7 M52.40 861.30 h1.7 M401.80 861.30 h-1.7 M52.40 842.67 h1.7 M401.80 842.67 h-1.7 M52.40 826.53 h3.9 M401.80 826.53 h-3.9 M52.40 812.30 h1.7 M401.80 812.30 h-1.7 M52.40 799.57 h1.7 M401.80 799.57 h-1.7 M52.40 788.05 h1.7 M401.80 788.05 h-1.7 M52.40 777.53 h3.9 M401.80 777.53 h-3.9 M52.40 767.86 h1.7 M401.80 767.86 h-1.7 M52.40 758.90 h1.7 M401.80 758.90 h-1.7 M52.40 750.57 h1.7 M401.80 750.57 h-1.7 M52.40 742.77 h3.9 M401.80 742.77 h-3.9 M52.40 735.44 h1.7 M401.80 735.44 h-1.7 M52.40 728.53 h1.7 M401.80 728.53 h-1.7 M52.40 722.00 h1.7 M401.80 722.00 h-1.7 M52.40 715.80 h3.9 M401.80 715.80 h-3.9 M52.40 709.90 h1.7 M401.80 709.90 h-1.7 M52.40 704.28 h1.7 M401.80 704.28 h-1.7 M52.40 698.91 h1.7 M401.80 698.91 h-1.7" stroke="#747474" stroke-width="0.8" fill="none"/>
<g font-size="16.4" fill="#808080">
<text transform="translate(265.60 882.70) scale(0.958 1)" ><tspan font-style="italic">k</tspan><tspan font-size="12.1" dy="2.8">Nyq</tspan><tspan dy="-2.8">(L10)</tspan></text>
<text transform="translate(321.70 903.90) scale(0.958 1)" ><tspan font-style="italic">k</tspan><tspan font-size="12.1" dy="2.8">Nyq</tspan><tspan dy="-2.8">(L5)</tspan></text>
</g>
<path d="M309.1 695.70 V910.30" stroke="#707070" stroke-width="1.6" stroke-dasharray="8.4 3.65" fill="none"/>
<path d="M344.2 697.45 V910.30" stroke="#707070" stroke-width="1.6" stroke-dasharray="3.2 2.75" fill="none"/>
<g clip-path="url(#cp3)" fill="none" stroke-width="2" stroke-linejoin="round">
<path d="M52.0 716.0 L54.0 716.1 L56.0 716.2 L58.0 716.3 L60.0 716.3 L62.0 716.4 L64.0 716.5 L66.0 716.6 L68.0 716.6 L70.0 716.7 L72.0 716.8 L74.0 716.9 L76.0 716.9 L78.0 717.0 L80.0 717.1 L82.0 717.2 L84.0 717.2 L86.0 717.3 L88.0 717.4 L90.0 717.5 L92.0 717.5 L94.0 717.6 L96.0 717.7 L98.0 717.8 L100.0 717.9 L102.0 718.0 L104.0 718.1 L106.0 718.2 L108.0 718.3 L110.0 718.4 L112.0 718.5 L114.0 718.6 L116.0 718.7 L118.0 718.8 L120.0 718.9 L122.0 719.0 L124.0 719.2 L126.0 719.3 L128.0 719.5 L130.0 719.6 L132.0 719.7 L134.0 719.9 L136.0 720.1 L138.0 720.2 L140.0 720.4 L142.0 720.6 L144.0 720.8 L146.0 721.0 L148.0 721.1 L150.0 721.4 L152.0 721.6 L154.0 721.8 L156.0 722.0 L158.0 722.2 L160.0 722.5 L162.0 722.7 L164.0 723.0 L166.0 723.3 L168.0 723.5 L170.0 723.8 L172.0 724.1 L174.0 724.4 L176.0 724.7 L178.0 725.0 L180.0 725.4 L182.0 725.7 L184.0 726.1 L186.0 726.4 L188.0 726.8 L190.0 727.2 L192.0 727.6 L194.0 728.0 L196.0 728.4 L198.0 728.8 L200.0 729.3 L202.0 729.7 L204.0 730.2 L206.0 730.7 L208.0 731.1 L210.0 731.7 L212.0 732.2 L214.0 732.7 L216.0 733.3 L218.0 733.9 L220.0 734.5 L222.0 735.1 L224.0 735.8 L226.0 736.5 L228.0 737.2 L230.0 738.0 L232.0 738.8 L234.0 739.6 L236.0 740.4 L238.0 741.3 L240.0 742.3 L242.0 743.2 L244.0 744.2 L246.0 745.3 L248.0 746.4 L250.0 747.5 L252.0 748.7 L254.0 749.9 L256.0 751.2 L258.0 752.5 L260.0 753.8 L262.0 755.2 L264.0 756.6 L266.0 758.0 L268.0 759.5 L270.0 761.0 L272.0 762.5 L274.0 764.0 L276.0 765.6 L278.0 767.2 L280.0 768.8 L282.0 770.4 L284.0 772.0 L286.0 773.7 L288.0 775.3 L290.0 777.0 L292.0 778.7 L294.0 780.4 L296.0 782.1 L298.0 783.8 L300.0 785.5 L302.0 787.3 L304.0 789.0 L306.0 790.8 L308.0 792.6 L310.0 794.5 L312.0 796.4 L314.0 798.3 L316.0 800.2 L318.0 802.2 L320.0 804.2 L322.0 806.2 L324.0 808.3 L326.0 810.4 L328.0 812.6 L330.0 814.8 L332.0 817.1 L334.0 819.4 L336.0 821.8 L338.0 824.2 L340.0 826.7 L342.0 829.2 L344.0 831.8 L346.0 834.4 L348.0 837.1 L350.0 839.8 L352.0 842.6 L354.0 845.4 L356.0 848.2 L358.0 851.1 L360.0 854.0 L362.0 856.9 L364.0 859.8 L366.0 862.8 L368.0 865.8 L370.0 868.7 L372.0 871.8 L374.0 874.8 L376.0 877.8 L378.0 880.9 L380.0 883.9 L382.0 887.0 L384.0 890.1 L386.0 893.2 L388.0 896.3 L390.0 899.4 L392.0 902.5 L394.0 905.6 L396.0 908.7 L398.0 911.7 L400.0 914.8 L402.0 917.9" stroke="#0000ff"/>
</g>
<g clip-path="url(#cm3)">
<path d="M50.1 713.4 L55.0 723.3 L45.3 723.3Z" fill="none" stroke="#00ff00" stroke-width="1.00" stroke-linejoin="miter"/>
<path d="M184.1 755.1 L189.0 765.0 L179.3 765.0Z" fill="none" stroke="#00ff00" stroke-width="1.00" stroke-linejoin="miter"/>
<path d="M217.4 773.4 L222.2 783.3 L212.5 783.3Z" fill="none" stroke="#00ff00" stroke-width="1.00" stroke-linejoin="miter"/>
<path d="M237.3 785.4 L242.1 795.3 L232.4 795.3Z" fill="none" stroke="#00ff00" stroke-width="1.00" stroke-linejoin="miter"/>
<path d="M251.5 790.1 L256.3 800.0 L246.6 800.0Z" fill="none" stroke="#00ff00" stroke-width="1.00" stroke-linejoin="miter"/>
<path d="M262.6 798.9 L267.4 808.8 L257.7 808.8Z" fill="none" stroke="#00ff00" stroke-width="1.00" stroke-linejoin="miter"/>
<path d="M271.7 805.8 L276.5 815.7 L266.8 815.7Z" fill="none" stroke="#00ff00" stroke-width="1.00" stroke-linejoin="miter"/>
<path d="M279.4 814.4 L284.2 824.3 L274.5 824.3Z" fill="none" stroke="#00ff00" stroke-width="1.00" stroke-linejoin="miter"/>
<path d="M286.1 819.3 L290.9 829.2 L281.2 829.2Z" fill="none" stroke="#00ff00" stroke-width="1.00" stroke-linejoin="miter"/>
<path d="M292.0 823.2 L296.8 833.1 L287.1 833.1Z" fill="none" stroke="#00ff00" stroke-width="1.00" stroke-linejoin="miter"/>
<path d="M297.3 826.0 L302.1 835.9 L292.4 835.9Z" fill="none" stroke="#00ff00" stroke-width="1.00" stroke-linejoin="miter"/>
<path d="M302.1 828.2 L306.9 838.1 L297.2 838.1Z" fill="none" stroke="#00ff00" stroke-width="1.00" stroke-linejoin="miter"/>
<path d="M306.4 829.7 L311.3 839.6 L301.6 839.6Z" fill="none" stroke="#00ff00" stroke-width="1.00" stroke-linejoin="miter"/>
<path d="M310.5 830.2 L315.3 840.1 L305.6 840.1Z" fill="none" stroke="#00ff00" stroke-width="1.00" stroke-linejoin="miter"/>
<path d="M314.2 830.4 L319.0 840.3 L309.3 840.3Z" fill="none" stroke="#00ff00" stroke-width="1.00" stroke-linejoin="miter"/>
<path d="M317.7 830.4 L322.5 840.3 L312.8 840.3Z" fill="none" stroke="#00ff00" stroke-width="1.00" stroke-linejoin="miter"/>
<path d="M320.9 829.9 L325.7 839.8 L316.0 839.8Z" fill="none" stroke="#00ff00" stroke-width="1.00" stroke-linejoin="miter"/>
<path d="M324.0 829.2 L328.8 839.1 L319.1 839.1Z" fill="none" stroke="#00ff00" stroke-width="1.00" stroke-linejoin="miter"/>
<path d="M326.8 828.1 L331.7 838.0 L322.0 838.0Z" fill="none" stroke="#00ff00" stroke-width="1.00" stroke-linejoin="miter"/>
<path d="M329.6 826.7 L334.4 836.6 L324.7 836.6Z" fill="none" stroke="#00ff00" stroke-width="1.00" stroke-linejoin="miter"/>
<path d="M332.1 825.0 L337.0 834.9 L327.3 834.9Z" fill="none" stroke="#00ff00" stroke-width="1.00" stroke-linejoin="miter"/>
<path d="M334.6 823.2 L339.4 833.1 L329.7 833.1Z" fill="none" stroke="#00ff00" stroke-width="1.00" stroke-linejoin="miter"/>
<path d="M336.9 821.5 L341.8 831.4 L332.1 831.4Z" fill="none" stroke="#00ff00" stroke-width="1.00" stroke-linejoin="miter"/>
<path d="M339.2 819.7 L344.0 829.6 L334.3 829.6Z" fill="none" stroke="#00ff00" stroke-width="1.00" stroke-linejoin="miter"/>
<path d="M341.3 817.5 L346.2 827.4 L336.5 827.4Z" fill="none" stroke="#00ff00" stroke-width="1.00" stroke-linejoin="miter"/>
<path d="M343.4 815.0 L348.2 824.9 L338.5 824.9Z" fill="none" stroke="#00ff00" stroke-width="1.00" stroke-linejoin="miter"/>
<path d="M50.1 710.4 L55.0 720.3 L45.3 720.3Z" fill="none" stroke="#ff8000" stroke-width="1.00" stroke-linejoin="miter"/>
<path d="M184.1 717.7 L189.0 727.6 L179.3 727.6Z" fill="none" stroke="#ff8000" stroke-width="1.00" stroke-linejoin="miter"/>
<path d="M217.4 720.5 L222.2 730.4 L212.5 730.4Z" fill="none" stroke="#ff8000" stroke-width="1.00" stroke-linejoin="miter"/>
<path d="M237.3 730.9 L242.1 740.8 L232.4 740.8Z" fill="none" stroke="#ff8000" stroke-width="1.00" stroke-linejoin="miter"/>
<path d="M251.5 736.1 L256.3 746.0 L246.6 746.0Z" fill="none" stroke="#ff8000" stroke-width="1.00" stroke-linejoin="miter"/>
<path d="M262.6 745.9 L267.4 755.8 L257.7 755.8Z" fill="none" stroke="#ff8000" stroke-width="1.00" stroke-linejoin="miter"/>
<path d="M271.7 752.0 L276.5 761.9 L266.8 761.9Z" fill="none" stroke="#ff8000" stroke-width="1.00" stroke-linejoin="miter"/>
<path d="M279.4 758.3 L284.2 768.2 L274.5 768.2Z" fill="none" stroke="#ff8000" stroke-width="1.00" stroke-linejoin="miter"/>
<path d="M286.1 764.6 L290.9 774.5 L281.2 774.5Z" fill="none" stroke="#ff8000" stroke-width="1.00" stroke-linejoin="miter"/>
<path d="M292.0 770.4 L296.8 780.3 L287.1 780.3Z" fill="none" stroke="#ff8000" stroke-width="1.00" stroke-linejoin="miter"/>
<path d="M297.3 774.9 L302.1 784.8 L292.4 784.8Z" fill="none" stroke="#ff8000" stroke-width="1.00" stroke-linejoin="miter"/>
<path d="M302.1 778.5 L306.9 788.4 L297.2 788.4Z" fill="none" stroke="#ff8000" stroke-width="1.00" stroke-linejoin="miter"/>
<path d="M306.4 781.3 L311.3 791.2 L301.6 791.2Z" fill="none" stroke="#ff8000" stroke-width="1.00" stroke-linejoin="miter"/>
<path d="M310.5 783.5 L315.3 793.4 L305.6 793.4Z" fill="none" stroke="#ff8000" stroke-width="1.00" stroke-linejoin="miter"/>
<path d="M314.2 785.7 L319.0 795.6 L309.3 795.6Z" fill="none" stroke="#ff8000" stroke-width="1.00" stroke-linejoin="miter"/>
<path d="M317.7 787.9 L322.5 797.8 L312.8 797.8Z" fill="none" stroke="#ff8000" stroke-width="1.00" stroke-linejoin="miter"/>
<path d="M320.9 789.9 L325.7 799.8 L316.0 799.8Z" fill="none" stroke="#ff8000" stroke-width="1.00" stroke-linejoin="miter"/>
<path d="M324.0 791.4 L328.8 801.3 L319.1 801.3Z" fill="none" stroke="#ff8000" stroke-width="1.00" stroke-linejoin="miter"/>
<path d="M326.8 792.8 L331.7 802.7 L322.0 802.7Z" fill="none" stroke="#ff8000" stroke-width="1.00" stroke-linejoin="miter"/>
<path d="M329.6 794.2 L334.4 804.1 L324.7 804.1Z" fill="none" stroke="#ff8000" stroke-width="1.00" stroke-linejoin="miter"/>
<path d="M332.1 795.9 L337.0 805.8 L327.3 805.8Z" fill="none" stroke="#ff8000" stroke-width="1.00" stroke-linejoin="miter"/>
<path d="M334.6 797.7 L339.4 807.6 L329.7 807.6Z" fill="none" stroke="#ff8000" stroke-width="1.00" stroke-linejoin="miter"/>
<path d="M336.9 799.4 L341.8 809.3 L332.1 809.3Z" fill="none" stroke="#ff8000" stroke-width="1.00" stroke-linejoin="miter"/>
<path d="M339.2 800.9 L344.0 810.8 L334.3 810.8Z" fill="none" stroke="#ff8000" stroke-width="1.00" stroke-linejoin="miter"/>
<path d="M341.3 802.4 L346.2 812.3 L336.5 812.3Z" fill="none" stroke="#ff8000" stroke-width="1.00" stroke-linejoin="miter"/>
<path d="M343.4 803.9 L348.2 813.8 L338.5 813.8Z" fill="none" stroke="#ff8000" stroke-width="1.00" stroke-linejoin="miter"/>
</g>
<g clip-path="url(#cp3)" fill="none" stroke-width="2" stroke-linejoin="round">
<path d="M52.0 716.2 L54.0 716.1 L56.0 716.1 L58.0 716.1 L60.0 716.1 L62.0 716.1 L64.0 716.1 L66.0 716.1 L68.0 716.2 L70.0 716.2 L72.0 716.2 L74.0 716.3 L76.0 716.3 L78.0 716.4 L80.0 716.4 L82.0 716.5 L84.0 716.6 L86.0 716.7 L88.0 716.8 L90.0 716.8 L92.0 716.9 L94.0 717.0 L96.0 717.1 L98.0 717.2 L100.0 717.3 L102.0 717.5 L104.0 717.6 L106.0 717.7 L108.0 717.8 L110.0 717.9 L112.0 718.0 L114.0 718.2 L116.0 718.3 L118.0 718.4 L120.0 718.6 L122.0 718.7 L124.0 718.8 L126.0 718.9 L128.0 719.1 L130.0 719.2 L132.0 719.3 L134.0 719.5 L136.0 719.6 L138.0 719.7 L140.0 719.8 L142.0 720.0 L144.0 720.1 L146.0 720.2 L148.0 720.4 L150.0 720.5 L152.0 720.7 L154.0 720.8 L156.0 721.0 L158.0 721.2 L160.0 721.4 L162.0 721.5 L164.0 721.7 L166.0 721.9 L168.0 722.1 L170.0 722.3 L172.0 722.6 L174.0 722.8 L176.0 723.1 L178.0 723.3 L180.0 723.6 L182.0 723.9 L184.0 724.2 L186.0 724.5 L188.0 724.8 L190.0 725.1 L192.0 725.5 L194.0 725.9 L196.0 726.3 L198.0 726.7 L200.0 727.1 L202.0 727.5 L204.0 728.0 L206.0 728.5 L208.0 729.0 L210.0 729.5 L212.0 730.0 L214.0 730.6 L216.0 731.1 L218.0 731.8 L220.0 732.4 L222.0 733.0 L224.0 733.7 L226.0 734.4 L228.0 735.1 L230.0 735.9 L232.0 736.7 L234.0 737.5 L236.0 738.3 L238.0 739.2 L240.0 740.1 L242.0 741.0 L244.0 742.0 L246.0 743.0 L248.0 744.0 L250.0 745.0 L252.0 746.1 L254.0 747.3 L256.0 748.4 L258.0 749.6 L260.0 750.8 L262.0 752.1 L264.0 753.4 L266.0 754.7 L268.0 756.0 L270.0 757.4 L272.0 758.7 L274.0 760.2 L276.0 761.6 L278.0 763.1 L280.0 764.6 L282.0 766.1 L284.0 767.6 L286.0 769.2 L288.0 770.7 L290.0 772.3 L292.0 774.0 L294.0 775.6 L296.0 777.3 L298.0 779.0 L300.0 780.7 L302.0 782.4 L304.0 784.2 L306.0 785.9 L308.0 787.7 L310.0 789.6 L312.0 791.4 L314.0 793.3 L316.0 795.2 L318.0 797.1 L320.0 799.1 L322.0 801.1 L324.0 803.1 L326.0 805.1 L328.0 807.2 L330.0 809.3 L332.0 811.4 L334.0 813.6 L336.0 815.8 L338.0 818.0 L340.0 820.2 L342.0 822.5 L344.0 824.8 L346.0 827.2 L348.0 829.5 L350.0 832.0 L352.0 834.4 L354.0 836.9 L356.0 839.4 L358.0 841.9 L360.0 844.5 L362.0 847.1 L364.0 849.8 L366.0 852.5 L368.0 855.2 L370.0 858.0 L372.0 860.8 L374.0 863.6 L376.0 866.5 L378.0 869.5 L380.0 872.4 L382.0 875.4 L384.0 878.5 L386.0 881.6 L388.0 884.7 L390.0 887.8 L392.0 891.1 L394.0 894.3 L396.0 897.6 L398.0 901.0 L400.0 904.3 L402.0 907.8" stroke="#ff8000"/>
<path d="M52.0 718.1 L54.0 718.1 L56.0 718.2 L58.0 718.2 L60.0 718.3 L62.0 718.3 L64.0 718.4 L66.0 718.4 L68.0 718.5 L70.0 718.6 L72.0 718.7 L74.0 718.7 L76.0 718.8 L78.0 718.9 L80.0 719.0 L82.0 719.1 L84.0 719.2 L86.0 719.4 L88.0 719.5 L90.0 719.6 L92.0 719.7 L94.0 719.9 L96.0 720.1 L98.0 720.2 L100.0 720.4 L102.0 720.6 L104.0 720.8 L106.0 721.0 L108.0 721.2 L110.0 721.4 L112.0 721.6 L114.0 721.8 L116.0 722.1 L118.0 722.3 L120.0 722.6 L122.0 722.9 L124.0 723.2 L126.0 723.5 L128.0 723.8 L130.0 724.1 L132.0 724.4 L134.0 724.8 L136.0 725.1 L138.0 725.5 L140.0 725.9 L142.0 726.3 L144.0 726.7 L146.0 727.1 L148.0 727.5 L150.0 727.9 L152.0 728.4 L154.0 728.9 L156.0 729.4 L158.0 729.9 L160.0 730.4 L162.0 730.9 L164.0 731.5 L166.0 732.0 L168.0 732.6 L170.0 733.2 L172.0 733.8 L174.0 734.4 L176.0 735.1 L178.0 735.7 L180.0 736.4 L182.0 737.1 L184.0 737.8 L186.0 738.5 L188.0 739.2 L190.0 740.0 L192.0 740.8 L194.0 741.6 L196.0 742.4 L198.0 743.2 L200.0 744.1 L202.0 744.9 L204.0 745.8 L206.0 746.7 L208.0 747.7 L210.0 748.6 L212.0 749.6 L214.0 750.6 L216.0 751.6 L218.0 752.6 L220.0 753.6 L222.0 754.7 L224.0 755.8 L226.0 756.9 L228.0 758.1 L230.0 759.2 L232.0 760.4 L234.0 761.6 L236.0 762.8 L238.0 764.1 L240.0 765.3 L242.0 766.6 L244.0 768.0 L246.0 769.3 L248.0 770.7 L250.0 772.0 L252.0 773.5 L254.0 774.9 L256.0 776.3 L258.0 777.8 L260.0 779.3 L262.0 780.8 L264.0 782.4 L266.0 783.9 L268.0 785.5 L270.0 787.1 L272.0 788.7 L274.0 790.3 L276.0 791.9 L278.0 793.6 L280.0 795.2 L282.0 796.9 L284.0 798.6 L286.0 800.2 L288.0 801.9 L290.0 803.6 L292.0 805.4 L294.0 807.1 L296.0 808.8 L298.0 810.5 L300.0 812.3 L302.0 814.0 L304.0 815.7 L306.0 817.5 L308.0 819.2 L310.0 821.0 L312.0 822.7 L314.0 824.5 L316.0 826.2 L318.0 827.9 L320.0 829.7 L322.0 831.4 L324.0 833.1 L326.0 834.9 L328.0 836.6 L330.0 838.3 L332.0 840.0 L334.0 841.7 L336.0 843.4 L338.0 845.0 L340.0 846.7 L342.0 848.3 L344.0 850.0 L346.0 851.6 L348.0 853.2 L350.0 854.8 L352.0 856.4 L354.0 857.9 L356.0 859.5 L358.0 861.0 L360.0 862.5 L362.0 864.0 L364.0 865.5 L366.0 866.9 L368.0 868.3 L370.0 869.7 L372.0 871.1 L374.0 872.5 L376.0 873.8 L378.0 875.1 L380.0 876.4 L382.0 877.6 L384.0 878.8 L386.0 880.0 L388.0 881.2 L390.0 882.3 L392.0 883.4 L394.0 884.5 L396.0 885.5 L398.0 886.5 L400.0 887.5 L402.0 888.4" stroke="#ff0000"/>
<path d="M52.0 720.2 L54.0 720.2 L56.0 720.2 L58.0 720.2 L60.0 720.3 L62.0 720.4 L64.0 720.5 L66.0 720.7 L68.0 720.9 L70.0 721.1 L72.0 721.3 L74.0 721.6 L76.0 721.8 L78.0 722.1 L80.0 722.5 L82.0 722.8 L84.0 723.2 L86.0 723.6 L88.0 724.0 L90.0 724.4 L92.0 724.9 L94.0 725.4 L96.0 725.9 L98.0 726.4 L100.0 727.0 L102.0 727.5 L104.0 728.1 L106.0 728.7 L108.0 729.4 L110.0 730.0 L112.0 730.7 L114.0 731.4 L116.0 732.1 L118.0 732.8 L120.0 733.6 L122.0 734.3 L124.0 735.1 L126.0 735.9 L128.0 736.7 L130.0 737.6 L132.0 738.4 L134.0 739.3 L136.0 740.2 L138.0 741.1 L140.0 742.0 L142.0 742.9 L144.0 743.9 L146.0 744.8 L148.0 745.8 L150.0 746.8 L152.0 747.8 L154.0 748.8 L156.0 749.9 L158.0 750.9 L160.0 752.0 L162.0 753.0 L164.0 754.1 L166.0 755.2 L168.0 756.3 L170.0 757.5 L172.0 758.6 L174.0 759.8 L176.0 761.0 L178.0 762.2 L180.0 763.5 L182.0 764.8 L184.0 766.1 L186.0 767.4 L188.0 768.8 L190.0 770.2 L192.0 771.6 L194.0 773.1 L196.0 774.6 L198.0 776.1 L200.0 777.7 L202.0 779.3 L204.0 780.9 L206.0 782.6 L208.0 784.2 L210.0 785.9 L212.0 787.7 L214.0 789.4 L216.0 791.1 L218.0 792.8 L220.0 794.4 L222.0 796.1 L224.0 797.8 L226.0 799.4 L228.0 801.1 L230.0 802.9 L232.0 804.6 L234.0 806.4 L236.0 808.2 L238.0 810.1 L240.0 812.0 L242.0 813.9 L244.0 815.8 L246.0 817.8 L248.0 819.8 L250.0 821.8 L252.0 823.9 L254.0 825.9 L256.0 828.0 L258.0 830.0 L260.0 832.1 L262.0 834.1 L264.0 836.0 L266.0 837.9 L268.0 839.8 L270.0 841.5 L272.0 843.2 L274.0 844.8 L276.0 846.3 L278.0 847.7 L280.0 849.1 L282.0 850.5 L284.0 851.8 L286.0 853.2 L288.0 854.6 L290.0 856.0 L292.0 857.5 L294.0 858.9 L296.0 860.4 L298.0 861.9 L300.0 863.3 L302.0 864.8 L304.0 866.3 L306.0 867.7 L308.0 869.2 L310.0 870.6 L312.0 872.1 L314.0 873.5 L316.0 874.9 L318.0 876.3 L320.0 877.6 L322.0 878.9 L324.0 880.2 L326.0 881.5 L328.0 882.7 L330.0 884.0 L332.0 885.2 L334.0 886.3 L336.0 887.5 L338.0 888.6 L340.0 889.7 L342.0 890.8 L344.0 891.9 L346.0 892.9 L348.0 893.9 L350.0 894.9 L352.0 895.9 L354.0 896.9 L356.0 897.8 L358.0 898.8 L360.0 899.7 L362.0 900.6 L364.0 901.5 L366.0 902.4 L368.0 903.3 L370.0 904.1 L372.0 905.0 L374.0 905.8 L376.0 906.6 L378.0 907.5 L380.0 908.3 L382.0 909.1 L384.0 909.9 L386.0 910.7 L388.0 911.5 L390.0 912.2 L392.0 913.0 L394.0 913.8 L396.0 914.6 L398.0 915.3 L400.0 916.1 L402.0 916.9" stroke="#00ff00"/>
<path d="M52.40 715.95 H403.00" stroke="#000" stroke-width="2.6"/>
</g>
<g clip-path="url(#cm3)">
<circle cx="84.1" cy="720.4" r="3.5" fill="#00ff00"/>
<circle cx="219.1" cy="819.5" r="3.5" fill="#00ff00"/>
<circle cx="252.4" cy="821.5" r="3.5" fill="#00ff00"/>
<circle cx="272.3" cy="842.0" r="3.5" fill="#00ff00"/>
<circle cx="286.5" cy="850.0" r="3.5" fill="#00ff00"/>
<circle cx="297.6" cy="851.8" r="3.5" fill="#00ff00"/>
<circle cx="306.7" cy="858.2" r="3.5" fill="#00ff00"/>
<circle cx="314.4" cy="864.9" r="3.5" fill="#00ff00"/>
<circle cx="321.1" cy="870.1" r="3.5" fill="#00ff00"/>
<circle cx="327.0" cy="870.5" r="3.5" fill="#00ff00"/>
<circle cx="332.3" cy="871.8" r="3.5" fill="#00ff00"/>
<circle cx="337.1" cy="874.2" r="3.5" fill="#00ff00"/>
<circle cx="341.5" cy="874.6" r="3.5" fill="#00ff00"/>
<circle cx="345.5" cy="873.9" r="3.5" fill="#00ff00"/>
<circle cx="349.2" cy="871.6" r="3.5" fill="#00ff00"/>
<circle cx="352.7" cy="869.2" r="3.5" fill="#00ff00"/>
<circle cx="356.0" cy="866.8" r="3.5" fill="#00ff00"/>
<circle cx="359.0" cy="864.7" r="3.5" fill="#00ff00"/>
<circle cx="361.9" cy="863.0" r="3.5" fill="#00ff00"/>
<circle cx="364.6" cy="861.5" r="3.5" fill="#00ff00"/>
<circle cx="367.2" cy="860.0" r="3.5" fill="#00ff00"/>
<circle cx="369.6" cy="858.2" r="3.5" fill="#00ff00"/>
<circle cx="372.0" cy="856.3" r="3.5" fill="#00ff00"/>
<circle cx="374.2" cy="854.2" r="3.5" fill="#00ff00"/>
<circle cx="376.4" cy="852.1" r="3.5" fill="#00ff00"/>
<circle cx="378.4" cy="849.9" r="3.5" fill="#00ff00"/>
<circle cx="84.1" cy="715.8" r="3.5" fill="#ff8000"/>
<circle cx="219.1" cy="731.4" r="3.5" fill="#ff8000"/>
<circle cx="252.4" cy="761.1" r="3.5" fill="#ff8000"/>
<circle cx="272.3" cy="770.6" r="3.5" fill="#ff8000"/>
<circle cx="286.5" cy="783.3" r="3.5" fill="#ff8000"/>
<circle cx="297.6" cy="792.9" r="3.5" fill="#ff8000"/>
<circle cx="306.7" cy="803.7" r="3.5" fill="#ff8000"/>
<circle cx="314.4" cy="809.5" r="3.5" fill="#ff8000"/>
<circle cx="321.1" cy="815.7" r="3.5" fill="#ff8000"/>
<circle cx="327.0" cy="820.2" r="3.5" fill="#ff8000"/>
<circle cx="332.3" cy="825.3" r="3.5" fill="#ff8000"/>
<circle cx="337.1" cy="830.6" r="3.5" fill="#ff8000"/>
<circle cx="341.5" cy="835.6" r="3.5" fill="#ff8000"/>
<circle cx="345.5" cy="838.9" r="3.5" fill="#ff8000"/>
<circle cx="349.2" cy="840.8" r="3.5" fill="#ff8000"/>
<circle cx="352.7" cy="841.7" r="3.5" fill="#ff8000"/>
<circle cx="356.0" cy="842.0" r="3.5" fill="#ff8000"/>
<circle cx="359.0" cy="841.9" r="3.5" fill="#ff8000"/>
<circle cx="361.9" cy="841.7" r="3.5" fill="#ff8000"/>
<circle cx="364.6" cy="841.1" r="3.5" fill="#ff8000"/>
<circle cx="367.2" cy="839.8" r="3.5" fill="#ff8000"/>
<circle cx="369.6" cy="838.6" r="3.5" fill="#ff8000"/>
<circle cx="372.0" cy="837.2" r="3.5" fill="#ff8000"/>
<circle cx="374.2" cy="835.7" r="3.5" fill="#ff8000"/>
<circle cx="376.4" cy="834.0" r="3.5" fill="#ff8000"/>
<circle cx="378.4" cy="832.0" r="3.5" fill="#ff8000"/>
</g>
<g font-size="17.5" fill="#000" text-anchor="end">
<text x="49.1" y="721.2" textLength="25.4" lengthAdjust="spacingAndGlyphs">1.0</text>
<text x="49.1" y="748.2" textLength="25.4" lengthAdjust="spacingAndGlyphs">0.8</text>
<text x="49.1" y="782.9" textLength="25.4" lengthAdjust="spacingAndGlyphs">0.6</text>
<text x="49.1" y="831.9" textLength="25.4" lengthAdjust="spacingAndGlyphs">0.4</text>
<text x="49.1" y="915.7" textLength="25.4" lengthAdjust="spacingAndGlyphs">0.2</text>
</g>
<text transform="translate(12.8 898.2) rotate(-90)" font-size="17.9" fill="#000"><tspan font-style="italic">P</tspan><tspan font-size="12.85" dy="3.6">LLCHAMP,MDM</tspan><tspan dy="-3.6">(k)/</tspan><tspan font-style="italic">P</tspan><tspan font-size="12.85" dy="3.6">CDM</tspan><tspan dy="-3.6">(k)</tspan></text>
<g font-size="16.4" fill="#000">
<text transform="translate(67.90 742.80) scale(0.958 1)" >L5</text>
<circle cx="100.1" cy="738.3" r="5" fill="#000"/>
<text transform="translate(67.90 764.10) scale(0.958 1)" >L10</text>
<path d="M107.4 756.2 l4.2 8.1 h-8.4z" fill="none" stroke="#222" stroke-width="0.9"/>
<text transform="translate(68.40 807.30) scale(0.958 1)" >z=2.</text>
</g>
<g font-size="14.2">
<text transform="translate(74.80 828.70) scale(0.958 1)" fill="#ff0000"><tspan font-style="italic">m</tspan><tspan font-size="10.0" dy="2.4">WDM</tspan><tspan dy="-2.4">=0.5 keV, </tspan><tspan font-style="italic">r</tspan><tspan font-size="10.0" dy="2.4">warm</tspan><tspan dy="-2.4">=0.5</tspan></text>
<text transform="translate(75.80 850.40) scale(0.958 1)" fill="#00ff00"><tspan font-style="italic">τ</tspan><tspan font-size="10.0" dy="2.4">Ch</tspan><tspan dy="-2.4">=10 yr, </tspan><tspan font-style="italic">r</tspan><tspan font-size="10.0" dy="2.4">Ch</tspan><tspan dy="-2.4">=0.5</tspan></text>
<text transform="translate(77.00 871.40) scale(0.958 1)" fill="#0000ff"><tspan font-style="italic">m</tspan><tspan font-size="10.0" dy="2.4">WDM</tspan><tspan dy="-2.4">=1 keV, </tspan><tspan font-style="italic">r</tspan><tspan font-size="10.0" dy="2.4">warm</tspan><tspan dy="-2.4">=0.8</tspan></text>
<text transform="translate(75.80 893.10) scale(0.958 1)" fill="#ff8000"><tspan font-style="italic">τ</tspan><tspan font-size="10.0" dy="2.4">Ch</tspan><tspan dy="-2.4">=1 yr, </tspan><tspan font-style="italic">r</tspan><tspan font-size="10.0" dy="2.4">Ch</tspan><tspan dy="-2.4">=0.85</tspan></text>
</g>
</g>
<text x="52.5" y="930.6" font-size="17.6" fill="#000" text-anchor="middle">10<tspan font-size="12.3" dy="-7.6">0</tspan></text>
<text x="169.0" y="930.6" font-size="17.6" fill="#000" text-anchor="middle">10<tspan font-size="12.3" dy="-7.6">1</tspan></text>
<text x="285.4" y="930.6" font-size="17.6" fill="#000" text-anchor="middle">10<tspan font-size="12.3" dy="-7.6">2</tspan></text>
<text x="401.9" y="930.6" font-size="17.6" fill="#000" text-anchor="middle">10<tspan font-size="12.3" dy="-7.6">3</tspan></text>
<text x="226.3" y="953.8" font-size="17.5" fill="#000" text-anchor="middle">k [h/Mpc]</text>
</svg>
</body></html>
